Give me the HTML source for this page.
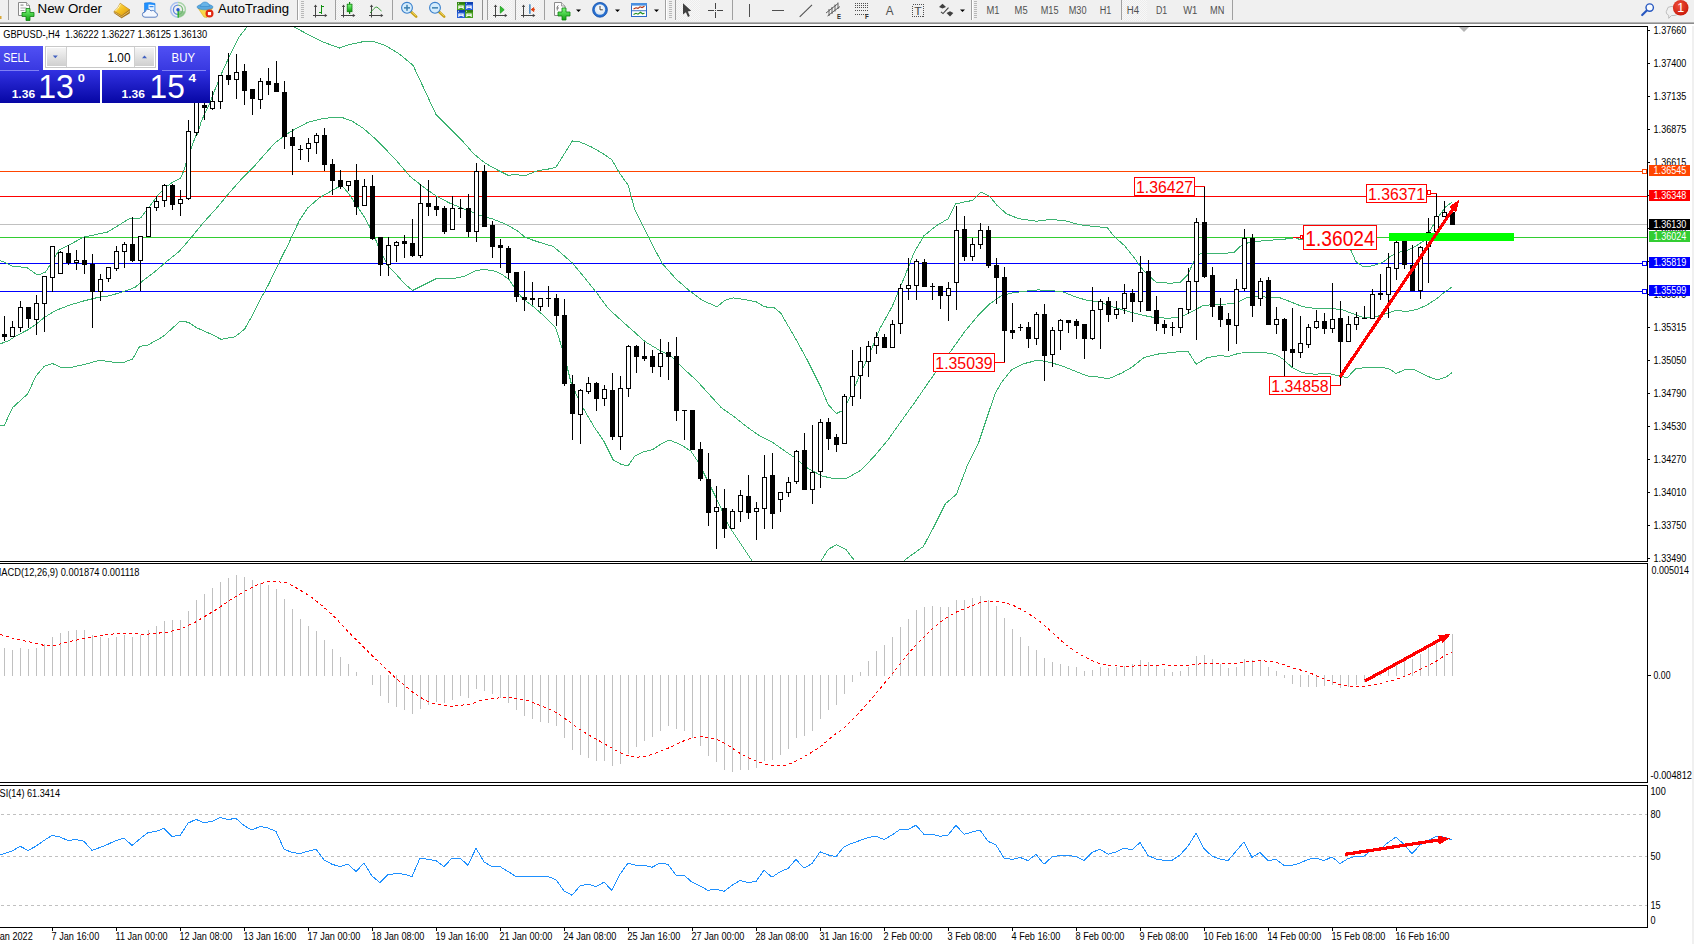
<!DOCTYPE html>
<html><head><meta charset="utf-8"><title>GBPUSD H4</title>
<style>html,body{margin:0;padding:0;background:#fff;overflow:hidden}body{width:1694px;height:944px;font-family:"Liberation Sans",sans-serif}svg text{font-family:"Liberation Sans",sans-serif}</style></head>
<body>
<svg width="1694" height="944" viewBox="0 0 1694 944" style="display:block">
<defs>
<linearGradient id="gblue" x1="0" y1="0" x2="0" y2="1"><stop offset="0" stop-color="#3232e2"/><stop offset="1" stop-color="#0606a4"/></linearGradient>
<linearGradient id="gblue2" x1="0" y1="0" x2="0" y2="1"><stop offset="0" stop-color="#5050f4"/><stop offset="1" stop-color="#3838e0"/></linearGradient>
<clipPath id="cmain"><rect x="0" y="27" width="1647" height="534"/></clipPath>
<clipPath id="cmacd"><rect x="0" y="564" width="1647" height="218"/></clipPath>
<clipPath id="crsi"><rect x="0" y="786" width="1647" height="141"/></clipPath>
</defs>
<rect x="0" y="0" width="1694" height="944" fill="#ffffff"/>
<g clip-path="url(#cmain)" shape-rendering="crispEdges">
<rect x="0" y="171" width="1647" height="1" fill="#ff4500"/>
<rect x="0" y="196" width="1647" height="1" fill="#ff0000"/>
<rect x="0" y="224" width="1647" height="1" fill="#c0c0c0"/>
<rect x="0" y="237" width="1647" height="1" fill="#32cd32"/>
<rect x="0" y="263" width="1647" height="1" fill="#0000ff"/>
<rect x="0" y="291" width="1647" height="1" fill="#0000ff"/>
<polyline points="0.0,260.6 5.5,262.6 12.4,266.4 20.7,267.0 27.6,268.0 35.8,274.0 41.3,274.0 45.5,272.0 52.0,262.0 59.0,250.0 69.0,245.0 84.0,237.0 93.7,235.0 107.5,232.0 118.5,225.4 129.5,218.5 140.5,218.0 148.8,207.5 157.0,196.4 165.0,187.6 172.0,182.7 180.5,178.0 184.6,169.0 186.5,161.0 190.0,152.0 195.6,136.0 197.5,134.8 201.0,122.0 205.8,111.4 209.4,104.0 214.0,92.0 222.4,71.5 230.6,53.6 239.0,37.0 247.0,27.0" fill="none" stroke="#3cb371" stroke-width="1" />
<polyline points="294.0,27.0 307.8,34.3 324.3,42.5 339.5,48.0 349.0,44.7 363.0,41.7 374.0,41.7 385.0,45.3 398.7,53.5 413.1,65.4 424.6,90.0 436.1,114.7 449.3,127.8 462.4,140.9 473.9,154.0 485.4,163.3 498.5,170.5 508.4,175.4 515.0,174.4 524.8,175.8 537.9,170.5 547.8,169.2 556.0,167.2 564.2,154.0 572.4,140.9 579.0,141.6 590.5,146.5 602.0,153.0 611.8,159.7 620.0,173.8 628.2,185.3 634.8,209.9 643.0,226.3 652.9,246.0 662.7,264.0 675.9,278.9 689.0,290.4 702.1,300.2 716.9,306.8 725.1,300.2 733.3,297.9 744.8,299.6 756.3,301.9 764.5,306.8 774.4,307.8 781.0,313.4 787.5,324.8 794.0,335.8 807.6,360.6 821.3,388.2 828.2,404.7 836.5,413.5 843.4,410.2 851.6,393.7 862.7,368.9 873.7,344.0 880.0,328.4 892.2,306.5 904.4,277.2 914.0,252.8 923.9,235.8 936.0,226.0 948.2,218.7 955.5,204.0 965.3,201.7 972.6,200.5 981.0,192.0 989.6,196.3 997.0,205.3 1006.7,213.9 1018.9,218.7 1036.0,221.2 1050.6,219.5 1065.2,220.7 1079.8,224.8 1094.4,226.5 1107.3,227.7 1114.6,237.0 1124.4,245.5 1134.1,257.7 1143.9,271.1 1156.0,282.1 1170.7,283.3 1180.4,282.1 1187.7,274.8 1193.8,261.4 1199.9,254.0 1209.6,253.6 1221.8,253.6 1234.0,252.4 1241.3,245.5 1248.6,242.6 1258.4,241.2 1270.6,240.2 1282.7,239.4 1294.9,237.7 1299.7,239.4 1320.0,241.0 1340.0,243.0 1351.0,250.4 1355.8,261.4 1363.1,266.7 1372.8,265.8 1382.6,262.6 1390.0,256.5 1400.0,252.0 1408.0,250.0 1416.7,245.5 1424.0,240.7 1431.0,229.0 1438.6,216.3 1446.0,206.5 1452.0,202.2" fill="none" stroke="#3cb371" stroke-width="1" />
<polyline points="0.0,343.9 8.3,341.0 16.5,335.6 27.6,330.0 35.8,324.6 44.0,317.7 55.0,310.8 69.0,305.3 82.7,301.2 96.4,297.8 110.2,295.6 124.0,291.5 135.0,287.4 143.3,280.5 154.3,272.2 165.3,262.6 179.0,251.6 190.7,238.2 203.0,223.0 216.8,207.9 230.6,191.3 241.6,179.0 252.7,168.0 263.7,155.5 274.7,143.0 285.7,134.8 296.8,128.0 307.8,122.4 321.5,118.9 335.3,117.0 340.8,117.0 351.9,121.0 362.9,128.0 373.9,137.6 385.0,148.6 396.0,160.0 409.8,176.2 423.6,187.2 437.3,196.8 451.0,203.7 464.9,209.2 478.7,214.8 492.4,218.9 506.2,224.4 517.2,230.7 525.5,237.6 539.3,242.3 553.0,246.4 561.3,253.3 572.4,263.0 586.0,279.5 597.0,293.3 608.2,308.4 620.8,320.0 632.3,330.2 645.0,341.6 657.7,349.2 670.4,355.6 683.1,368.3 695.8,379.7 708.6,393.7 721.3,407.7 734.0,416.6 746.7,426.8 759.4,435.7 772.1,442.0 784.8,451.0 793.8,457.0 807.6,468.0 821.3,475.8 835.1,479.0 846.0,478.6 860.0,470.8 873.7,457.0 887.5,440.5 901.2,421.2 915.0,402.0 928.7,382.0 940.9,365.0 953.1,347.9 965.3,330.8 977.5,316.2 989.6,304.0 1001.8,295.5 1014.0,292.6 1026.2,291.1 1038.4,289.9 1050.6,290.6 1062.7,291.8 1074.9,296.7 1087.1,300.4 1099.3,301.6 1109.7,306.0 1119.5,308.9 1131.7,312.5 1143.9,315.5 1156.0,317.9 1170.7,318.1 1182.8,316.2 1192.6,311.3 1202.3,306.0 1212.1,304.5 1226.7,304.0 1236.5,302.8 1246.2,297.9 1255.9,296.7 1270.6,297.2 1280.3,297.9 1290.0,301.6 1302.2,306.5 1314.4,308.4 1329.0,308.4 1341.2,309.4 1353.4,313.8 1363.1,317.4 1372.8,317.4 1382.6,315.0 1394.8,310.6 1407.0,311.3 1416.7,309.6 1426.5,305.2 1436.2,299.1 1443.5,293.0 1452.0,287.0" fill="none" stroke="#3cb371" stroke-width="1" />
<polyline points="0.0,425.8 4.1,425.8 12.4,407.8 27.6,394.0 36.0,376.0 44.2,366.4 52.5,363.6 60.8,367.2 71.9,367.2 85.7,364.1 99.5,360.3 113.4,362.2 124.4,362.2 132.7,358.9 139.6,346.4 147.9,345.1 163.1,336.5 179.7,321.6 188.0,322.1 196.3,327.6 210.1,333.7 221.2,339.3 235.0,336.8 244.7,329.0 251.6,316.6 259.9,300.0 267.8,286.0 280.2,260.2 288.5,243.7 299.5,220.3 307.8,207.9 318.8,198.2 328.4,192.7 338.0,187.2 342.2,185.8 349.0,194.0 357.4,206.5 365.6,218.9 374.0,235.4 379.4,249.2 387.7,265.7 396.0,274.0 404.3,283.6 412.5,290.5 423.6,285.0 437.3,278.1 451.0,279.0 464.9,276.2 475.9,270.7 484.2,269.3 495.2,271.2 503.5,275.4 509.0,279.5 514.5,287.8 522.8,298.8 533.8,307.0 544.8,316.7 555.8,328.0 563.6,353.0 571.3,383.6 581.4,405.2 594.1,426.8 604.3,442.0 613.2,459.8 622.1,464.9 628.5,465.4 634.8,456.0 642.4,452.2 652.6,449.7 660.2,444.6 669.1,440.0 680.6,444.6 690.8,451.0 698.4,462.4 708.6,482.7 718.7,503.0 728.9,526.0 739.0,541.2 751.8,560.5" fill="none" stroke="#3cb371" stroke-width="1" />
<polyline points="821.3,560.5 828.2,549.4 836.5,544.7 846.0,549.4 854.4,560.5" fill="none" stroke="#3cb371" stroke-width="1" />
<polyline points="904.0,560.5 923.3,546.6 934.3,526.0 945.3,503.9 956.4,494.3 967.4,465.3 978.4,443.3 986.7,418.5 995.0,393.7 1001.8,382.0 1011.6,369.8 1023.8,363.7 1038.4,360.0 1050.6,362.5 1062.7,366.2 1074.9,371.0 1087.1,375.9 1099.3,377.1 1108.5,378.8 1121.9,373.0 1131.7,367.4 1143.9,357.6 1158.5,354.0 1173.1,352.3 1187.7,351.0 1196.2,364.2 1207.2,357.6 1219.4,355.7 1229.1,356.4 1238.9,353.2 1251.1,352.3 1265.7,352.7 1275.4,354.5 1282.7,358.8 1292.5,367.9 1302.2,372.7 1314.4,374.2 1329.0,373.5 1338.7,375.9 1347.3,377.6 1355.8,368.6 1368.0,367.4 1382.6,367.4 1389.9,369.3 1396.0,373.5 1404.5,369.8 1414.3,369.8 1426.5,375.9 1437.4,380.0 1446.0,377.1 1452.0,372.7" fill="none" stroke="#3cb371" stroke-width="1" />
<rect x="4" y="316" width="1" height="25" fill="#000"/>
<rect x="2" y="334" width="5" height="3" fill="#000"/>
<rect x="12" y="321" width="1" height="16" fill="#000"/>
<rect x="10" y="327" width="5" height="10" fill="#000"/>
<rect x="11" y="328" width="3" height="8" fill="#fff"/>
<rect x="20" y="301" width="1" height="31" fill="#000"/>
<rect x="18" y="307" width="5" height="21" fill="#000"/>
<rect x="19" y="308" width="3" height="19" fill="#fff"/>
<rect x="28" y="307" width="1" height="21" fill="#000"/>
<rect x="26" y="307" width="5" height="12" fill="#000"/>
<rect x="36" y="295" width="1" height="40" fill="#000"/>
<rect x="34" y="303" width="5" height="17" fill="#000"/>
<rect x="35" y="304" width="3" height="15" fill="#fff"/>
<rect x="44" y="276" width="1" height="56" fill="#000"/>
<rect x="42" y="276" width="5" height="28" fill="#000"/>
<rect x="43" y="277" width="3" height="26" fill="#fff"/>
<rect x="52" y="246" width="1" height="46" fill="#000"/>
<rect x="50" y="246" width="5" height="32" fill="#000"/>
<rect x="51" y="247" width="3" height="30" fill="#fff"/>
<rect x="60" y="251" width="1" height="23" fill="#000"/>
<rect x="58" y="252" width="5" height="22" fill="#000"/>
<rect x="59" y="253" width="3" height="20" fill="#fff"/>
<rect x="68" y="245" width="1" height="20" fill="#000"/>
<rect x="66" y="253" width="5" height="10" fill="#000"/>
<rect x="76" y="250" width="1" height="20" fill="#000"/>
<rect x="74" y="260" width="5" height="3" fill="#000"/>
<rect x="75" y="261" width="3" height="1" fill="#fff"/>
<rect x="84" y="237" width="1" height="37" fill="#000"/>
<rect x="82" y="260" width="5" height="5" fill="#000"/>
<rect x="92" y="254" width="1" height="74" fill="#000"/>
<rect x="90" y="264" width="5" height="28" fill="#000"/>
<rect x="100" y="274" width="1" height="27" fill="#000"/>
<rect x="98" y="279" width="5" height="13" fill="#000"/>
<rect x="99" y="280" width="3" height="11" fill="#fff"/>
<rect x="108" y="267" width="1" height="15" fill="#000"/>
<rect x="106" y="267" width="5" height="12" fill="#000"/>
<rect x="107" y="268" width="3" height="10" fill="#fff"/>
<rect x="116" y="246" width="1" height="25" fill="#000"/>
<rect x="114" y="251" width="5" height="18" fill="#000"/>
<rect x="115" y="252" width="3" height="16" fill="#fff"/>
<rect x="124" y="242" width="1" height="26" fill="#000"/>
<rect x="122" y="244" width="5" height="8" fill="#000"/>
<rect x="123" y="245" width="3" height="6" fill="#fff"/>
<rect x="132" y="217" width="1" height="45" fill="#000"/>
<rect x="130" y="244" width="5" height="17" fill="#000"/>
<rect x="140" y="236" width="1" height="55" fill="#000"/>
<rect x="138" y="236" width="5" height="25" fill="#000"/>
<rect x="139" y="237" width="3" height="23" fill="#fff"/>
<rect x="148" y="207" width="1" height="30" fill="#000"/>
<rect x="146" y="207" width="5" height="30" fill="#000"/>
<rect x="147" y="208" width="3" height="28" fill="#fff"/>
<rect x="156" y="196" width="1" height="15" fill="#000"/>
<rect x="154" y="201" width="5" height="7" fill="#000"/>
<rect x="155" y="202" width="3" height="5" fill="#fff"/>
<rect x="164" y="184" width="1" height="23" fill="#000"/>
<rect x="162" y="185" width="5" height="16" fill="#000"/>
<rect x="163" y="186" width="3" height="14" fill="#fff"/>
<rect x="172" y="184" width="1" height="26" fill="#000"/>
<rect x="170" y="185" width="5" height="20" fill="#000"/>
<rect x="180" y="190" width="1" height="26" fill="#000"/>
<rect x="178" y="199" width="5" height="5" fill="#000"/>
<rect x="179" y="200" width="3" height="3" fill="#fff"/>
<rect x="188" y="120" width="1" height="80" fill="#000"/>
<rect x="186" y="131" width="5" height="68" fill="#000"/>
<rect x="187" y="132" width="3" height="66" fill="#fff"/>
<rect x="196" y="99" width="1" height="37" fill="#000"/>
<rect x="194" y="99" width="5" height="34" fill="#000"/>
<rect x="195" y="100" width="3" height="32" fill="#fff"/>
<rect x="204" y="103" width="1" height="17" fill="#000"/>
<rect x="202" y="105" width="5" height="3" fill="#000"/>
<rect x="212" y="91" width="1" height="19" fill="#000"/>
<rect x="210" y="101" width="5" height="8" fill="#000"/>
<rect x="211" y="102" width="3" height="6" fill="#fff"/>
<rect x="220" y="75" width="1" height="34" fill="#000"/>
<rect x="218" y="75" width="5" height="27" fill="#000"/>
<rect x="219" y="76" width="3" height="25" fill="#fff"/>
<rect x="228" y="53" width="1" height="32" fill="#000"/>
<rect x="226" y="75" width="5" height="5" fill="#000"/>
<rect x="236" y="54" width="1" height="45" fill="#000"/>
<rect x="234" y="72" width="5" height="8" fill="#000"/>
<rect x="235" y="73" width="3" height="6" fill="#fff"/>
<rect x="244" y="64" width="1" height="41" fill="#000"/>
<rect x="242" y="71" width="5" height="20" fill="#000"/>
<rect x="252" y="89" width="1" height="26" fill="#000"/>
<rect x="250" y="89" width="5" height="10" fill="#000"/>
<rect x="260" y="78" width="1" height="31" fill="#000"/>
<rect x="258" y="81" width="5" height="19" fill="#000"/>
<rect x="259" y="82" width="3" height="17" fill="#fff"/>
<rect x="268" y="68" width="1" height="27" fill="#000"/>
<rect x="266" y="81" width="5" height="4" fill="#000"/>
<rect x="276" y="61" width="1" height="31" fill="#000"/>
<rect x="274" y="83" width="5" height="9" fill="#000"/>
<rect x="284" y="81" width="1" height="68" fill="#000"/>
<rect x="282" y="92" width="5" height="45" fill="#000"/>
<rect x="292" y="129" width="1" height="46" fill="#000"/>
<rect x="290" y="137" width="5" height="9" fill="#000"/>
<rect x="300" y="145" width="1" height="15" fill="#000"/>
<rect x="298" y="149" width="5" height="1" fill="#000"/>
<rect x="308" y="138" width="1" height="24" fill="#000"/>
<rect x="306" y="143" width="5" height="6" fill="#000"/>
<rect x="307" y="144" width="3" height="4" fill="#fff"/>
<rect x="316" y="133" width="1" height="21" fill="#000"/>
<rect x="314" y="135" width="5" height="8" fill="#000"/>
<rect x="315" y="136" width="3" height="6" fill="#fff"/>
<rect x="324" y="128" width="1" height="43" fill="#000"/>
<rect x="322" y="135" width="5" height="30" fill="#000"/>
<rect x="332" y="159" width="1" height="36" fill="#000"/>
<rect x="330" y="164" width="5" height="17" fill="#000"/>
<rect x="340" y="170" width="1" height="19" fill="#000"/>
<rect x="338" y="180" width="5" height="7" fill="#000"/>
<rect x="348" y="181" width="1" height="10" fill="#000"/>
<rect x="346" y="181" width="5" height="5" fill="#000"/>
<rect x="347" y="182" width="3" height="3" fill="#fff"/>
<rect x="356" y="164" width="1" height="51" fill="#000"/>
<rect x="354" y="180" width="5" height="27" fill="#000"/>
<rect x="364" y="179" width="1" height="27" fill="#000"/>
<rect x="362" y="186" width="5" height="20" fill="#000"/>
<rect x="363" y="187" width="3" height="18" fill="#fff"/>
<rect x="372" y="175" width="1" height="65" fill="#000"/>
<rect x="370" y="186" width="5" height="53" fill="#000"/>
<rect x="380" y="237" width="1" height="39" fill="#000"/>
<rect x="378" y="237" width="5" height="28" fill="#000"/>
<rect x="388" y="237" width="1" height="39" fill="#000"/>
<rect x="386" y="245" width="5" height="20" fill="#000"/>
<rect x="387" y="246" width="3" height="18" fill="#fff"/>
<rect x="396" y="241" width="1" height="21" fill="#000"/>
<rect x="394" y="242" width="5" height="4" fill="#000"/>
<rect x="395" y="243" width="3" height="2" fill="#fff"/>
<rect x="404" y="235" width="1" height="23" fill="#000"/>
<rect x="402" y="241" width="5" height="3" fill="#000"/>
<rect x="412" y="219" width="1" height="38" fill="#000"/>
<rect x="410" y="243" width="5" height="13" fill="#000"/>
<rect x="420" y="184" width="1" height="74" fill="#000"/>
<rect x="418" y="203" width="5" height="53" fill="#000"/>
<rect x="419" y="204" width="3" height="51" fill="#fff"/>
<rect x="428" y="180" width="1" height="36" fill="#000"/>
<rect x="426" y="203" width="5" height="4" fill="#000"/>
<rect x="436" y="197" width="1" height="19" fill="#000"/>
<rect x="434" y="206" width="5" height="4" fill="#000"/>
<rect x="444" y="206" width="1" height="28" fill="#000"/>
<rect x="442" y="208" width="5" height="24" fill="#000"/>
<rect x="452" y="196" width="1" height="34" fill="#000"/>
<rect x="450" y="208" width="5" height="22" fill="#000"/>
<rect x="451" y="209" width="3" height="20" fill="#fff"/>
<rect x="460" y="199" width="1" height="19" fill="#000"/>
<rect x="458" y="208" width="5" height="1" fill="#000"/>
<rect x="468" y="194" width="1" height="43" fill="#000"/>
<rect x="466" y="208" width="5" height="24" fill="#000"/>
<rect x="476" y="163" width="1" height="79" fill="#000"/>
<rect x="474" y="171" width="5" height="61" fill="#000"/>
<rect x="475" y="172" width="3" height="59" fill="#fff"/>
<rect x="484" y="165" width="1" height="62" fill="#000"/>
<rect x="482" y="171" width="5" height="56" fill="#000"/>
<rect x="492" y="221" width="1" height="37" fill="#000"/>
<rect x="490" y="225" width="5" height="22" fill="#000"/>
<rect x="500" y="239" width="1" height="29" fill="#000"/>
<rect x="498" y="245" width="5" height="3" fill="#000"/>
<rect x="508" y="246" width="1" height="33" fill="#000"/>
<rect x="506" y="248" width="5" height="25" fill="#000"/>
<rect x="516" y="272" width="1" height="30" fill="#000"/>
<rect x="514" y="272" width="5" height="25" fill="#000"/>
<rect x="524" y="271" width="1" height="40" fill="#000"/>
<rect x="522" y="297" width="5" height="3" fill="#000"/>
<rect x="532" y="282" width="1" height="23" fill="#000"/>
<rect x="530" y="298" width="5" height="2" fill="#000"/>
<rect x="540" y="298" width="1" height="13" fill="#000"/>
<rect x="538" y="298" width="5" height="9" fill="#000"/>
<rect x="539" y="299" width="3" height="7" fill="#fff"/>
<rect x="548" y="286" width="1" height="21" fill="#000"/>
<rect x="546" y="298" width="5" height="1" fill="#000"/>
<rect x="556" y="294" width="1" height="32" fill="#000"/>
<rect x="554" y="298" width="5" height="18" fill="#000"/>
<rect x="564" y="299" width="1" height="87" fill="#000"/>
<rect x="562" y="315" width="5" height="69" fill="#000"/>
<rect x="572" y="375" width="1" height="65" fill="#000"/>
<rect x="570" y="384" width="5" height="30" fill="#000"/>
<rect x="580" y="389" width="1" height="55" fill="#000"/>
<rect x="578" y="390" width="5" height="25" fill="#000"/>
<rect x="579" y="391" width="3" height="23" fill="#fff"/>
<rect x="588" y="377" width="1" height="17" fill="#000"/>
<rect x="586" y="383" width="5" height="9" fill="#000"/>
<rect x="587" y="384" width="3" height="7" fill="#fff"/>
<rect x="596" y="382" width="1" height="29" fill="#000"/>
<rect x="594" y="383" width="5" height="16" fill="#000"/>
<rect x="604" y="385" width="1" height="21" fill="#000"/>
<rect x="602" y="389" width="5" height="10" fill="#000"/>
<rect x="603" y="390" width="3" height="8" fill="#fff"/>
<rect x="612" y="373" width="1" height="67" fill="#000"/>
<rect x="610" y="390" width="5" height="47" fill="#000"/>
<rect x="620" y="376" width="1" height="74" fill="#000"/>
<rect x="618" y="388" width="5" height="49" fill="#000"/>
<rect x="619" y="389" width="3" height="47" fill="#fff"/>
<rect x="628" y="345" width="1" height="52" fill="#000"/>
<rect x="626" y="346" width="5" height="43" fill="#000"/>
<rect x="627" y="347" width="3" height="41" fill="#fff"/>
<rect x="636" y="345" width="1" height="28" fill="#000"/>
<rect x="634" y="346" width="5" height="11" fill="#000"/>
<rect x="644" y="342" width="1" height="19" fill="#000"/>
<rect x="642" y="356" width="5" height="3" fill="#000"/>
<rect x="652" y="350" width="1" height="23" fill="#000"/>
<rect x="650" y="356" width="5" height="11" fill="#000"/>
<rect x="660" y="339" width="1" height="38" fill="#000"/>
<rect x="658" y="353" width="5" height="14" fill="#000"/>
<rect x="659" y="354" width="3" height="12" fill="#fff"/>
<rect x="668" y="342" width="1" height="38" fill="#000"/>
<rect x="666" y="352" width="5" height="5" fill="#000"/>
<rect x="676" y="337" width="1" height="84" fill="#000"/>
<rect x="674" y="356" width="5" height="55" fill="#000"/>
<rect x="684" y="410" width="1" height="30" fill="#000"/>
<rect x="682" y="410" width="5" height="1" fill="#000"/>
<rect x="692" y="410" width="1" height="40" fill="#000"/>
<rect x="690" y="410" width="5" height="40" fill="#000"/>
<rect x="700" y="442" width="1" height="39" fill="#000"/>
<rect x="698" y="449" width="5" height="30" fill="#000"/>
<rect x="708" y="453" width="1" height="73" fill="#000"/>
<rect x="706" y="479" width="5" height="34" fill="#000"/>
<rect x="716" y="486" width="1" height="63" fill="#000"/>
<rect x="714" y="507" width="5" height="5" fill="#000"/>
<rect x="715" y="508" width="3" height="3" fill="#fff"/>
<rect x="724" y="489" width="1" height="49" fill="#000"/>
<rect x="722" y="508" width="5" height="21" fill="#000"/>
<rect x="732" y="509" width="1" height="20" fill="#000"/>
<rect x="730" y="511" width="5" height="18" fill="#000"/>
<rect x="731" y="512" width="3" height="16" fill="#fff"/>
<rect x="740" y="490" width="1" height="32" fill="#000"/>
<rect x="738" y="495" width="5" height="17" fill="#000"/>
<rect x="739" y="496" width="3" height="15" fill="#fff"/>
<rect x="748" y="475" width="1" height="44" fill="#000"/>
<rect x="746" y="496" width="5" height="17" fill="#000"/>
<rect x="756" y="502" width="1" height="38" fill="#000"/>
<rect x="754" y="508" width="5" height="4" fill="#000"/>
<rect x="755" y="509" width="3" height="2" fill="#fff"/>
<rect x="764" y="455" width="1" height="74" fill="#000"/>
<rect x="762" y="477" width="5" height="32" fill="#000"/>
<rect x="763" y="478" width="3" height="30" fill="#fff"/>
<rect x="772" y="453" width="1" height="76" fill="#000"/>
<rect x="770" y="475" width="5" height="39" fill="#000"/>
<rect x="780" y="492" width="1" height="20" fill="#000"/>
<rect x="778" y="492" width="5" height="8" fill="#000"/>
<rect x="779" y="493" width="3" height="6" fill="#fff"/>
<rect x="788" y="477" width="1" height="20" fill="#000"/>
<rect x="786" y="482" width="5" height="11" fill="#000"/>
<rect x="787" y="483" width="3" height="9" fill="#fff"/>
<rect x="796" y="450" width="1" height="34" fill="#000"/>
<rect x="794" y="451" width="5" height="31" fill="#000"/>
<rect x="795" y="452" width="3" height="29" fill="#fff"/>
<rect x="804" y="433" width="1" height="57" fill="#000"/>
<rect x="802" y="450" width="5" height="40" fill="#000"/>
<rect x="812" y="425" width="1" height="79" fill="#000"/>
<rect x="810" y="472" width="5" height="18" fill="#000"/>
<rect x="811" y="473" width="3" height="16" fill="#fff"/>
<rect x="820" y="419" width="1" height="69" fill="#000"/>
<rect x="818" y="422" width="5" height="50" fill="#000"/>
<rect x="819" y="423" width="3" height="48" fill="#fff"/>
<rect x="828" y="418" width="1" height="32" fill="#000"/>
<rect x="826" y="422" width="5" height="17" fill="#000"/>
<rect x="836" y="434" width="1" height="18" fill="#000"/>
<rect x="834" y="437" width="5" height="8" fill="#000"/>
<rect x="844" y="394" width="1" height="50" fill="#000"/>
<rect x="842" y="396" width="5" height="48" fill="#000"/>
<rect x="843" y="397" width="3" height="46" fill="#fff"/>
<rect x="852" y="350" width="1" height="56" fill="#000"/>
<rect x="850" y="376" width="5" height="21" fill="#000"/>
<rect x="851" y="377" width="3" height="19" fill="#fff"/>
<rect x="860" y="347" width="1" height="52" fill="#000"/>
<rect x="858" y="361" width="5" height="15" fill="#000"/>
<rect x="859" y="362" width="3" height="13" fill="#fff"/>
<rect x="868" y="341" width="1" height="36" fill="#000"/>
<rect x="866" y="346" width="5" height="16" fill="#000"/>
<rect x="867" y="347" width="3" height="14" fill="#fff"/>
<rect x="876" y="332" width="1" height="22" fill="#000"/>
<rect x="874" y="337" width="5" height="9" fill="#000"/>
<rect x="875" y="338" width="3" height="7" fill="#fff"/>
<rect x="884" y="334" width="1" height="14" fill="#000"/>
<rect x="882" y="337" width="5" height="11" fill="#000"/>
<rect x="892" y="320" width="1" height="28" fill="#000"/>
<rect x="890" y="324" width="5" height="24" fill="#000"/>
<rect x="891" y="325" width="3" height="22" fill="#fff"/>
<rect x="900" y="284" width="1" height="50" fill="#000"/>
<rect x="898" y="288" width="5" height="36" fill="#000"/>
<rect x="899" y="289" width="3" height="34" fill="#fff"/>
<rect x="908" y="258" width="1" height="42" fill="#000"/>
<rect x="906" y="285" width="5" height="4" fill="#000"/>
<rect x="907" y="286" width="3" height="2" fill="#fff"/>
<rect x="916" y="259" width="1" height="41" fill="#000"/>
<rect x="914" y="261" width="5" height="25" fill="#000"/>
<rect x="915" y="262" width="3" height="23" fill="#fff"/>
<rect x="924" y="259" width="1" height="28" fill="#000"/>
<rect x="922" y="262" width="5" height="25" fill="#000"/>
<rect x="932" y="283" width="1" height="17" fill="#000"/>
<rect x="930" y="286" width="5" height="1" fill="#000"/>
<rect x="940" y="286" width="1" height="23" fill="#000"/>
<rect x="938" y="286" width="5" height="10" fill="#000"/>
<rect x="948" y="282" width="1" height="39" fill="#000"/>
<rect x="946" y="288" width="5" height="8" fill="#000"/>
<rect x="947" y="289" width="3" height="6" fill="#fff"/>
<rect x="956" y="206" width="1" height="104" fill="#000"/>
<rect x="954" y="230" width="5" height="53" fill="#000"/>
<rect x="955" y="231" width="3" height="51" fill="#fff"/>
<rect x="964" y="216" width="1" height="45" fill="#000"/>
<rect x="962" y="229" width="5" height="28" fill="#000"/>
<rect x="972" y="238" width="1" height="23" fill="#000"/>
<rect x="970" y="244" width="5" height="13" fill="#000"/>
<rect x="971" y="245" width="3" height="11" fill="#fff"/>
<rect x="980" y="223" width="1" height="26" fill="#000"/>
<rect x="978" y="230" width="5" height="15" fill="#000"/>
<rect x="979" y="231" width="3" height="13" fill="#fff"/>
<rect x="988" y="226" width="1" height="42" fill="#000"/>
<rect x="986" y="230" width="5" height="36" fill="#000"/>
<rect x="996" y="258" width="1" height="46" fill="#000"/>
<rect x="994" y="265" width="5" height="13" fill="#000"/>
<rect x="1004" y="267" width="1" height="95" fill="#000"/>
<rect x="1002" y="277" width="5" height="54" fill="#000"/>
<rect x="1012" y="303" width="1" height="36" fill="#000"/>
<rect x="1010" y="330" width="5" height="3" fill="#000"/>
<rect x="1020" y="324" width="1" height="7" fill="#000"/>
<rect x="1018" y="327" width="5" height="1" fill="#000"/>
<rect x="1028" y="322" width="1" height="26" fill="#000"/>
<rect x="1026" y="327" width="5" height="12" fill="#000"/>
<rect x="1036" y="312" width="1" height="33" fill="#000"/>
<rect x="1034" y="314" width="5" height="25" fill="#000"/>
<rect x="1035" y="315" width="3" height="23" fill="#fff"/>
<rect x="1044" y="304" width="1" height="77" fill="#000"/>
<rect x="1042" y="314" width="5" height="42" fill="#000"/>
<rect x="1052" y="327" width="1" height="40" fill="#000"/>
<rect x="1050" y="330" width="5" height="25" fill="#000"/>
<rect x="1051" y="331" width="3" height="23" fill="#fff"/>
<rect x="1060" y="319" width="1" height="31" fill="#000"/>
<rect x="1058" y="320" width="5" height="11" fill="#000"/>
<rect x="1059" y="321" width="3" height="9" fill="#fff"/>
<rect x="1068" y="320" width="1" height="13" fill="#000"/>
<rect x="1066" y="320" width="5" height="3" fill="#000"/>
<rect x="1076" y="319" width="1" height="20" fill="#000"/>
<rect x="1074" y="321" width="5" height="5" fill="#000"/>
<rect x="1084" y="324" width="1" height="35" fill="#000"/>
<rect x="1082" y="324" width="5" height="15" fill="#000"/>
<rect x="1092" y="287" width="1" height="53" fill="#000"/>
<rect x="1090" y="310" width="5" height="29" fill="#000"/>
<rect x="1091" y="311" width="3" height="27" fill="#fff"/>
<rect x="1100" y="299" width="1" height="50" fill="#000"/>
<rect x="1098" y="301" width="5" height="9" fill="#000"/>
<rect x="1099" y="302" width="3" height="7" fill="#fff"/>
<rect x="1108" y="297" width="1" height="25" fill="#000"/>
<rect x="1106" y="301" width="5" height="14" fill="#000"/>
<rect x="1116" y="301" width="1" height="18" fill="#000"/>
<rect x="1114" y="309" width="5" height="6" fill="#000"/>
<rect x="1115" y="310" width="3" height="4" fill="#fff"/>
<rect x="1124" y="284" width="1" height="30" fill="#000"/>
<rect x="1122" y="293" width="5" height="16" fill="#000"/>
<rect x="1123" y="294" width="3" height="14" fill="#fff"/>
<rect x="1132" y="289" width="1" height="33" fill="#000"/>
<rect x="1130" y="293" width="5" height="9" fill="#000"/>
<rect x="1140" y="256" width="1" height="56" fill="#000"/>
<rect x="1138" y="272" width="5" height="30" fill="#000"/>
<rect x="1139" y="273" width="3" height="28" fill="#fff"/>
<rect x="1148" y="260" width="1" height="51" fill="#000"/>
<rect x="1146" y="271" width="5" height="40" fill="#000"/>
<rect x="1156" y="296" width="1" height="35" fill="#000"/>
<rect x="1154" y="310" width="5" height="14" fill="#000"/>
<rect x="1164" y="320" width="1" height="14" fill="#000"/>
<rect x="1162" y="324" width="5" height="4" fill="#000"/>
<rect x="1172" y="322" width="1" height="14" fill="#000"/>
<rect x="1170" y="327" width="5" height="1" fill="#000"/>
<rect x="1180" y="308" width="1" height="25" fill="#000"/>
<rect x="1178" y="308" width="5" height="20" fill="#000"/>
<rect x="1179" y="309" width="3" height="18" fill="#fff"/>
<rect x="1188" y="268" width="1" height="46" fill="#000"/>
<rect x="1186" y="281" width="5" height="29" fill="#000"/>
<rect x="1187" y="282" width="3" height="27" fill="#fff"/>
<rect x="1196" y="218" width="1" height="122" fill="#000"/>
<rect x="1194" y="222" width="5" height="60" fill="#000"/>
<rect x="1195" y="223" width="3" height="58" fill="#fff"/>
<rect x="1204" y="186" width="1" height="92" fill="#000"/>
<rect x="1202" y="222" width="5" height="55" fill="#000"/>
<rect x="1212" y="267" width="1" height="50" fill="#000"/>
<rect x="1210" y="275" width="5" height="32" fill="#000"/>
<rect x="1220" y="298" width="1" height="29" fill="#000"/>
<rect x="1218" y="306" width="5" height="14" fill="#000"/>
<rect x="1228" y="313" width="1" height="38" fill="#000"/>
<rect x="1226" y="319" width="5" height="6" fill="#000"/>
<rect x="1236" y="279" width="1" height="65" fill="#000"/>
<rect x="1234" y="289" width="5" height="37" fill="#000"/>
<rect x="1235" y="290" width="3" height="35" fill="#fff"/>
<rect x="1244" y="229" width="1" height="62" fill="#000"/>
<rect x="1242" y="238" width="5" height="51" fill="#000"/>
<rect x="1243" y="239" width="3" height="49" fill="#fff"/>
<rect x="1252" y="234" width="1" height="83" fill="#000"/>
<rect x="1250" y="238" width="5" height="68" fill="#000"/>
<rect x="1260" y="278" width="1" height="28" fill="#000"/>
<rect x="1258" y="281" width="5" height="18" fill="#000"/>
<rect x="1259" y="282" width="3" height="16" fill="#fff"/>
<rect x="1268" y="277" width="1" height="48" fill="#000"/>
<rect x="1266" y="280" width="5" height="45" fill="#000"/>
<rect x="1276" y="307" width="1" height="27" fill="#000"/>
<rect x="1274" y="319" width="5" height="6" fill="#000"/>
<rect x="1275" y="320" width="3" height="4" fill="#fff"/>
<rect x="1284" y="318" width="1" height="58" fill="#000"/>
<rect x="1282" y="319" width="5" height="32" fill="#000"/>
<rect x="1292" y="308" width="1" height="59" fill="#000"/>
<rect x="1290" y="349" width="5" height="4" fill="#000"/>
<rect x="1300" y="316" width="1" height="42" fill="#000"/>
<rect x="1298" y="343" width="5" height="10" fill="#000"/>
<rect x="1299" y="344" width="3" height="8" fill="#fff"/>
<rect x="1308" y="324" width="1" height="24" fill="#000"/>
<rect x="1306" y="327" width="5" height="18" fill="#000"/>
<rect x="1307" y="328" width="3" height="16" fill="#fff"/>
<rect x="1316" y="310" width="1" height="19" fill="#000"/>
<rect x="1314" y="321" width="5" height="7" fill="#000"/>
<rect x="1315" y="322" width="3" height="5" fill="#fff"/>
<rect x="1324" y="313" width="1" height="21" fill="#000"/>
<rect x="1322" y="321" width="5" height="8" fill="#000"/>
<rect x="1332" y="283" width="1" height="50" fill="#000"/>
<rect x="1330" y="319" width="5" height="10" fill="#000"/>
<rect x="1331" y="320" width="3" height="8" fill="#fff"/>
<rect x="1340" y="301" width="1" height="85" fill="#000"/>
<rect x="1338" y="318" width="5" height="24" fill="#000"/>
<rect x="1348" y="316" width="1" height="26" fill="#000"/>
<rect x="1346" y="324" width="5" height="18" fill="#000"/>
<rect x="1347" y="325" width="3" height="16" fill="#fff"/>
<rect x="1356" y="312" width="1" height="18" fill="#000"/>
<rect x="1354" y="317" width="5" height="8" fill="#000"/>
<rect x="1355" y="318" width="3" height="6" fill="#fff"/>
<rect x="1364" y="306" width="1" height="13" fill="#000"/>
<rect x="1362" y="318" width="5" height="1" fill="#000"/>
<rect x="1372" y="289" width="1" height="30" fill="#000"/>
<rect x="1370" y="294" width="5" height="25" fill="#000"/>
<rect x="1371" y="295" width="3" height="23" fill="#fff"/>
<rect x="1380" y="274" width="1" height="26" fill="#000"/>
<rect x="1378" y="293" width="5" height="2" fill="#000"/>
<rect x="1388" y="253" width="1" height="65" fill="#000"/>
<rect x="1386" y="267" width="5" height="28" fill="#000"/>
<rect x="1387" y="268" width="3" height="26" fill="#fff"/>
<rect x="1396" y="241" width="1" height="39" fill="#000"/>
<rect x="1394" y="242" width="5" height="27" fill="#000"/>
<rect x="1395" y="243" width="3" height="25" fill="#fff"/>
<rect x="1404" y="241" width="1" height="28" fill="#000"/>
<rect x="1402" y="241" width="5" height="24" fill="#000"/>
<rect x="1412" y="245" width="1" height="46" fill="#000"/>
<rect x="1410" y="265" width="5" height="26" fill="#000"/>
<rect x="1420" y="246" width="1" height="53" fill="#000"/>
<rect x="1418" y="247" width="5" height="44" fill="#000"/>
<rect x="1419" y="248" width="3" height="42" fill="#fff"/>
<rect x="1428" y="218" width="1" height="65" fill="#000"/>
<rect x="1426" y="232" width="5" height="15" fill="#000"/>
<rect x="1427" y="233" width="3" height="13" fill="#fff"/>
<rect x="1436" y="194" width="1" height="38" fill="#000"/>
<rect x="1434" y="216" width="5" height="16" fill="#000"/>
<rect x="1435" y="217" width="3" height="14" fill="#fff"/>
<rect x="1444" y="201" width="1" height="16" fill="#000"/>
<rect x="1442" y="212" width="5" height="5" fill="#000"/>
<rect x="1443" y="213" width="3" height="3" fill="#fff"/>
<rect x="1452" y="212" width="1" height="13" fill="#000"/>
<rect x="1450" y="212" width="5" height="13" fill="#000"/>
</g>
<rect x="1389" y="233" width="125" height="8" fill="#00ff00" shape-rendering="crispEdges"/>
<g shape-rendering="crispEdges">
<rect x="994" y="362" width="11" height="1" fill="#ff0000"/>
<rect x="1194" y="186" width="11" height="1" fill="#ff0000"/>
<rect x="1330" y="385" width="11" height="1" fill="#ff0000"/>
<rect x="1427.5" y="190.5" width="3" height="4" fill="#fff" stroke="#ff0000" stroke-width="1"/>
<rect x="1430" y="193" width="7" height="1" fill="#ff0000"/>
<rect x="1293" y="237" width="8" height="1" fill="#ff0000"/>
<rect x="1300.5" y="235.5" width="2" height="3" fill="#fff" stroke="#ff0000" stroke-width="1"/>
</g>
<rect x="933.5" y="353.5" width="61" height="18" fill="#fff" stroke="#ff0000" stroke-width="1" shape-rendering="crispEdges"/>
<text x="964.0" y="368.548" font-family="Liberation Sans, sans-serif" font-size="16.8" fill="#ff0000" text-anchor="middle" textLength="57.4" lengthAdjust="spacingAndGlyphs">1.35039</text>
<rect x="1134.5" y="177.5" width="60" height="18" fill="#fff" stroke="#ff0000" stroke-width="1" shape-rendering="crispEdges"/>
<text x="1164.5" y="192.548" font-family="Liberation Sans, sans-serif" font-size="16.8" fill="#ff0000" text-anchor="middle" textLength="57" lengthAdjust="spacingAndGlyphs">1.36427</text>
<rect x="1269.5" y="376.5" width="61" height="18" fill="#fff" stroke="#ff0000" stroke-width="1" shape-rendering="crispEdges"/>
<text x="1300.0" y="391.548" font-family="Liberation Sans, sans-serif" font-size="16.8" fill="#ff0000" text-anchor="middle" textLength="57.4" lengthAdjust="spacingAndGlyphs">1.34858</text>
<rect x="1366.5" y="184.5" width="60" height="18" fill="#fff" stroke="#ff0000" stroke-width="1" shape-rendering="crispEdges"/>
<text x="1396.5" y="199.548" font-family="Liberation Sans, sans-serif" font-size="16.8" fill="#ff0000" text-anchor="middle" textLength="57" lengthAdjust="spacingAndGlyphs">1.36371</text>
<rect x="1303.5" y="225.5" width="73" height="24" fill="#fff" stroke="#ff0000" stroke-width="1" shape-rendering="crispEdges"/>
<text x="1340.0" y="245.564" font-family="Liberation Sans, sans-serif" font-size="22.4" fill="#ff0000" text-anchor="middle" textLength="69.4" lengthAdjust="spacingAndGlyphs">1.36024</text>
<g shape-rendering="crispEdges"><line x1="1340" y1="377" x2="1453.7" y2="207.9" stroke="#ff0000" stroke-width="3.2"/>
<polygon points="1459.3,199.6 1456.3,212.1 1448.9,207.0" fill="#ff0000"/></g>
<g clip-path="url(#cmacd)" shape-rendering="crispEdges">
<rect x="4" y="648" width="1" height="28" fill="#c0c0c0"/>
<rect x="12" y="650" width="1" height="26" fill="#c0c0c0"/>
<rect x="20" y="648" width="1" height="28" fill="#c0c0c0"/>
<rect x="28" y="649" width="1" height="27" fill="#c0c0c0"/>
<rect x="36" y="648" width="1" height="28" fill="#c0c0c0"/>
<rect x="44" y="644" width="1" height="32" fill="#c0c0c0"/>
<rect x="52" y="637" width="1" height="39" fill="#c0c0c0"/>
<rect x="60" y="633" width="1" height="43" fill="#c0c0c0"/>
<rect x="68" y="631" width="1" height="45" fill="#c0c0c0"/>
<rect x="76" y="630" width="1" height="46" fill="#c0c0c0"/>
<rect x="84" y="630" width="1" height="46" fill="#c0c0c0"/>
<rect x="92" y="635" width="1" height="41" fill="#c0c0c0"/>
<rect x="100" y="637" width="1" height="39" fill="#c0c0c0"/>
<rect x="108" y="638" width="1" height="38" fill="#c0c0c0"/>
<rect x="116" y="637" width="1" height="39" fill="#c0c0c0"/>
<rect x="124" y="635" width="1" height="41" fill="#c0c0c0"/>
<rect x="132" y="637" width="1" height="39" fill="#c0c0c0"/>
<rect x="140" y="635" width="1" height="41" fill="#c0c0c0"/>
<rect x="148" y="630" width="1" height="46" fill="#c0c0c0"/>
<rect x="156" y="626" width="1" height="50" fill="#c0c0c0"/>
<rect x="164" y="621" width="1" height="55" fill="#c0c0c0"/>
<rect x="172" y="620" width="1" height="56" fill="#c0c0c0"/>
<rect x="180" y="620" width="1" height="56" fill="#c0c0c0"/>
<rect x="188" y="611" width="1" height="65" fill="#c0c0c0"/>
<rect x="196" y="600" width="1" height="76" fill="#c0c0c0"/>
<rect x="204" y="594" width="1" height="82" fill="#c0c0c0"/>
<rect x="212" y="588" width="1" height="88" fill="#c0c0c0"/>
<rect x="220" y="582" width="1" height="94" fill="#c0c0c0"/>
<rect x="228" y="578" width="1" height="98" fill="#c0c0c0"/>
<rect x="236" y="575" width="1" height="101" fill="#c0c0c0"/>
<rect x="244" y="577" width="1" height="99" fill="#c0c0c0"/>
<rect x="252" y="580" width="1" height="96" fill="#c0c0c0"/>
<rect x="260" y="583" width="1" height="93" fill="#c0c0c0"/>
<rect x="268" y="585" width="1" height="91" fill="#c0c0c0"/>
<rect x="276" y="589" width="1" height="87" fill="#c0c0c0"/>
<rect x="284" y="599" width="1" height="77" fill="#c0c0c0"/>
<rect x="292" y="609" width="1" height="67" fill="#c0c0c0"/>
<rect x="300" y="619" width="1" height="57" fill="#c0c0c0"/>
<rect x="308" y="626" width="1" height="50" fill="#c0c0c0"/>
<rect x="316" y="631" width="1" height="45" fill="#c0c0c0"/>
<rect x="324" y="640" width="1" height="36" fill="#c0c0c0"/>
<rect x="332" y="649" width="1" height="27" fill="#c0c0c0"/>
<rect x="340" y="657" width="1" height="19" fill="#c0c0c0"/>
<rect x="348" y="664" width="1" height="12" fill="#c0c0c0"/>
<rect x="356" y="672" width="1" height="4" fill="#c0c0c0"/>
<rect x="372" y="675" width="1" height="10" fill="#c0c0c0"/>
<rect x="380" y="675" width="1" height="21" fill="#c0c0c0"/>
<rect x="388" y="675" width="1" height="28" fill="#c0c0c0"/>
<rect x="396" y="675" width="1" height="32" fill="#c0c0c0"/>
<rect x="404" y="675" width="1" height="35" fill="#c0c0c0"/>
<rect x="412" y="675" width="1" height="39" fill="#c0c0c0"/>
<rect x="420" y="675" width="1" height="34" fill="#c0c0c0"/>
<rect x="428" y="675" width="1" height="30" fill="#c0c0c0"/>
<rect x="436" y="675" width="1" height="27" fill="#c0c0c0"/>
<rect x="444" y="675" width="1" height="28" fill="#c0c0c0"/>
<rect x="452" y="675" width="1" height="25" fill="#c0c0c0"/>
<rect x="460" y="675" width="1" height="21" fill="#c0c0c0"/>
<rect x="468" y="675" width="1" height="23" fill="#c0c0c0"/>
<rect x="476" y="675" width="1" height="14" fill="#c0c0c0"/>
<rect x="484" y="675" width="1" height="16" fill="#c0c0c0"/>
<rect x="492" y="675" width="1" height="19" fill="#c0c0c0"/>
<rect x="500" y="675" width="1" height="23" fill="#c0c0c0"/>
<rect x="508" y="675" width="1" height="28" fill="#c0c0c0"/>
<rect x="516" y="675" width="1" height="35" fill="#c0c0c0"/>
<rect x="524" y="675" width="1" height="41" fill="#c0c0c0"/>
<rect x="532" y="675" width="1" height="44" fill="#c0c0c0"/>
<rect x="540" y="675" width="1" height="47" fill="#c0c0c0"/>
<rect x="548" y="675" width="1" height="48" fill="#c0c0c0"/>
<rect x="556" y="675" width="1" height="51" fill="#c0c0c0"/>
<rect x="564" y="675" width="1" height="63" fill="#c0c0c0"/>
<rect x="572" y="675" width="1" height="75" fill="#c0c0c0"/>
<rect x="580" y="675" width="1" height="80" fill="#c0c0c0"/>
<rect x="588" y="675" width="1" height="83" fill="#c0c0c0"/>
<rect x="596" y="675" width="1" height="86" fill="#c0c0c0"/>
<rect x="604" y="675" width="1" height="86" fill="#c0c0c0"/>
<rect x="612" y="675" width="1" height="91" fill="#c0c0c0"/>
<rect x="620" y="675" width="1" height="89" fill="#c0c0c0"/>
<rect x="628" y="675" width="1" height="79" fill="#c0c0c0"/>
<rect x="636" y="675" width="1" height="72" fill="#c0c0c0"/>
<rect x="644" y="675" width="1" height="66" fill="#c0c0c0"/>
<rect x="652" y="675" width="1" height="62" fill="#c0c0c0"/>
<rect x="660" y="675" width="1" height="56" fill="#c0c0c0"/>
<rect x="668" y="675" width="1" height="51" fill="#c0c0c0"/>
<rect x="676" y="675" width="1" height="54" fill="#c0c0c0"/>
<rect x="684" y="675" width="1" height="56" fill="#c0c0c0"/>
<rect x="692" y="675" width="1" height="63" fill="#c0c0c0"/>
<rect x="700" y="675" width="1" height="71" fill="#c0c0c0"/>
<rect x="708" y="675" width="1" height="81" fill="#c0c0c0"/>
<rect x="716" y="675" width="1" height="87" fill="#c0c0c0"/>
<rect x="724" y="675" width="1" height="95" fill="#c0c0c0"/>
<rect x="732" y="675" width="1" height="97" fill="#c0c0c0"/>
<rect x="740" y="675" width="1" height="95" fill="#c0c0c0"/>
<rect x="748" y="675" width="1" height="95" fill="#c0c0c0"/>
<rect x="756" y="675" width="1" height="93" fill="#c0c0c0"/>
<rect x="764" y="675" width="1" height="86" fill="#c0c0c0"/>
<rect x="772" y="675" width="1" height="85" fill="#c0c0c0"/>
<rect x="780" y="675" width="1" height="80" fill="#c0c0c0"/>
<rect x="788" y="675" width="1" height="74" fill="#c0c0c0"/>
<rect x="796" y="675" width="1" height="63" fill="#c0c0c0"/>
<rect x="804" y="675" width="1" height="61" fill="#c0c0c0"/>
<rect x="812" y="675" width="1" height="56" fill="#c0c0c0"/>
<rect x="820" y="675" width="1" height="44" fill="#c0c0c0"/>
<rect x="828" y="675" width="1" height="35" fill="#c0c0c0"/>
<rect x="836" y="675" width="1" height="30" fill="#c0c0c0"/>
<rect x="844" y="675" width="1" height="19" fill="#c0c0c0"/>
<rect x="852" y="675" width="1" height="7" fill="#c0c0c0"/>
<rect x="860" y="672" width="1" height="4" fill="#c0c0c0"/>
<rect x="868" y="661" width="1" height="15" fill="#c0c0c0"/>
<rect x="876" y="651" width="1" height="25" fill="#c0c0c0"/>
<rect x="884" y="645" width="1" height="31" fill="#c0c0c0"/>
<rect x="892" y="637" width="1" height="39" fill="#c0c0c0"/>
<rect x="900" y="627" width="1" height="49" fill="#c0c0c0"/>
<rect x="908" y="619" width="1" height="57" fill="#c0c0c0"/>
<rect x="916" y="610" width="1" height="66" fill="#c0c0c0"/>
<rect x="924" y="607" width="1" height="69" fill="#c0c0c0"/>
<rect x="932" y="606" width="1" height="70" fill="#c0c0c0"/>
<rect x="940" y="607" width="1" height="69" fill="#c0c0c0"/>
<rect x="948" y="607" width="1" height="69" fill="#c0c0c0"/>
<rect x="956" y="600" width="1" height="76" fill="#c0c0c0"/>
<rect x="964" y="600" width="1" height="76" fill="#c0c0c0"/>
<rect x="972" y="598" width="1" height="78" fill="#c0c0c0"/>
<rect x="980" y="596" width="1" height="80" fill="#c0c0c0"/>
<rect x="988" y="600" width="1" height="76" fill="#c0c0c0"/>
<rect x="996" y="606" width="1" height="70" fill="#c0c0c0"/>
<rect x="1004" y="618" width="1" height="58" fill="#c0c0c0"/>
<rect x="1012" y="629" width="1" height="47" fill="#c0c0c0"/>
<rect x="1020" y="637" width="1" height="39" fill="#c0c0c0"/>
<rect x="1028" y="646" width="1" height="30" fill="#c0c0c0"/>
<rect x="1036" y="650" width="1" height="26" fill="#c0c0c0"/>
<rect x="1044" y="658" width="1" height="18" fill="#c0c0c0"/>
<rect x="1052" y="662" width="1" height="14" fill="#c0c0c0"/>
<rect x="1060" y="664" width="1" height="12" fill="#c0c0c0"/>
<rect x="1068" y="666" width="1" height="10" fill="#c0c0c0"/>
<rect x="1076" y="667" width="1" height="9" fill="#c0c0c0"/>
<rect x="1084" y="671" width="1" height="5" fill="#c0c0c0"/>
<rect x="1092" y="670" width="1" height="6" fill="#c0c0c0"/>
<rect x="1100" y="667" width="1" height="9" fill="#c0c0c0"/>
<rect x="1108" y="668" width="1" height="8" fill="#c0c0c0"/>
<rect x="1116" y="667" width="1" height="9" fill="#c0c0c0"/>
<rect x="1124" y="666" width="1" height="10" fill="#c0c0c0"/>
<rect x="1132" y="664" width="1" height="12" fill="#c0c0c0"/>
<rect x="1140" y="660" width="1" height="16" fill="#c0c0c0"/>
<rect x="1148" y="662" width="1" height="14" fill="#c0c0c0"/>
<rect x="1156" y="665" width="1" height="11" fill="#c0c0c0"/>
<rect x="1164" y="669" width="1" height="7" fill="#c0c0c0"/>
<rect x="1172" y="672" width="1" height="4" fill="#c0c0c0"/>
<rect x="1180" y="671" width="1" height="5" fill="#c0c0c0"/>
<rect x="1188" y="667" width="1" height="9" fill="#c0c0c0"/>
<rect x="1196" y="656" width="1" height="20" fill="#c0c0c0"/>
<rect x="1204" y="655" width="1" height="21" fill="#c0c0c0"/>
<rect x="1212" y="659" width="1" height="17" fill="#c0c0c0"/>
<rect x="1220" y="664" width="1" height="12" fill="#c0c0c0"/>
<rect x="1228" y="668" width="1" height="8" fill="#c0c0c0"/>
<rect x="1236" y="667" width="1" height="9" fill="#c0c0c0"/>
<rect x="1244" y="659" width="1" height="17" fill="#c0c0c0"/>
<rect x="1252" y="660" width="1" height="16" fill="#c0c0c0"/>
<rect x="1260" y="660" width="1" height="16" fill="#c0c0c0"/>
<rect x="1268" y="667" width="1" height="9" fill="#c0c0c0"/>
<rect x="1276" y="671" width="1" height="5" fill="#c0c0c0"/>
<rect x="1284" y="675" width="1" height="3" fill="#c0c0c0"/>
<rect x="1292" y="675" width="1" height="9" fill="#c0c0c0"/>
<rect x="1300" y="675" width="1" height="12" fill="#c0c0c0"/>
<rect x="1308" y="675" width="1" height="12" fill="#c0c0c0"/>
<rect x="1316" y="675" width="1" height="12" fill="#c0c0c0"/>
<rect x="1324" y="675" width="1" height="11" fill="#c0c0c0"/>
<rect x="1332" y="675" width="1" height="10" fill="#c0c0c0"/>
<rect x="1340" y="675" width="1" height="13" fill="#c0c0c0"/>
<rect x="1348" y="675" width="1" height="12" fill="#c0c0c0"/>
<rect x="1356" y="675" width="1" height="10" fill="#c0c0c0"/>
<rect x="1364" y="675" width="1" height="7" fill="#c0c0c0"/>
<rect x="1372" y="675" width="1" height="3" fill="#c0c0c0"/>
<rect x="1380" y="673" width="1" height="3" fill="#c0c0c0"/>
<rect x="1388" y="670" width="1" height="6" fill="#c0c0c0"/>
<rect x="1396" y="664" width="1" height="12" fill="#c0c0c0"/>
<rect x="1404" y="661" width="1" height="15" fill="#c0c0c0"/>
<rect x="1412" y="659" width="1" height="17" fill="#c0c0c0"/>
<rect x="1420" y="654" width="1" height="22" fill="#c0c0c0"/>
<rect x="1428" y="647" width="1" height="29" fill="#c0c0c0"/>
<rect x="1436" y="642" width="1" height="34" fill="#c0c0c0"/>
<rect x="1444" y="640" width="1" height="36" fill="#c0c0c0"/>
<rect x="1452" y="634" width="1" height="42" fill="#c0c0c0"/>
<polyline points="0.0,634.4 9.9,637.4 19.8,639.8 32.2,642.6 44.6,645.5 53.3,645.5 62.0,643.6 71.9,641.1 84.3,638.6 96.7,636.1 106.6,634.4 119.0,633.6 133.9,633.6 143.8,634.4 156.2,633.4 168.6,631.9 181.0,628.7 193.4,623.2 205.8,615.8 218.2,608.4 230.6,599.7 243.0,592.2 252.9,586.8 260.4,583.6 267.8,581.8 277.7,581.6 287.6,583.1 297.5,588.5 309.9,596.0 322.3,605.9 334.7,617.0 347.1,630.7 359.5,643.1 371.9,655.5 384.3,667.1 396.7,679.0 407.4,687.7 414.9,693.9 424.8,700.1 432.2,703.3 442.2,705.1 452.1,706.3 462.0,705.1 471.9,703.8 481.8,700.1 491.7,698.9 501.7,697.4 511.6,697.6 521.5,699.4 528.9,700.8 538.9,705.1 548.8,708.8 558.7,714.2 568.6,721.2 578.5,728.6 588.4,734.8 598.4,740.3 608.3,746.0 618.2,751.7 628.1,755.9 635.6,757.4 648.0,755.9 657.9,752.2 667.8,748.4 677.7,743.5 687.6,739.3 697.5,736.5 707.5,737.3 717.4,739.8 727.3,744.7 737.2,751.7 747.1,757.1 757.1,761.3 767.0,764.6 776.9,765.8 786.8,765.0 796.7,760.8 802.5,757.6 809.9,753.4 819.8,747.2 832.2,736.5 844.6,727.4 857.0,715.0 869.4,701.3 881.8,686.5 894.2,671.6 906.6,655.5 919.0,641.8 931.4,629.4 943.8,619.5 956.2,612.1 968.6,607.1 981.0,602.2 993.4,601.4 1003.3,602.2 1015.7,606.4 1028.1,613.3 1040.5,622.0 1052.9,633.1 1065.3,644.3 1077.7,653.0 1087.6,658.4 1097.5,662.9 1107.5,665.4 1119.9,666.1 1132.3,666.1 1147.1,665.4 1162.0,664.9 1176.9,665.4 1191.8,664.9 1204.2,663.4 1212.4,663.1 1224.8,663.6 1237.2,663.1 1249.6,661.4 1262.0,660.7 1274.4,661.9 1284.3,664.9 1294.2,668.6 1304.1,670.8 1314.1,674.6 1324.0,679.0 1333.9,682.2 1341.3,685.2 1351.3,686.5 1363.7,686.5 1373.6,685.2 1383.5,682.7 1395.9,679.5 1405.8,675.8 1415.7,671.6 1425.6,666.6 1435.6,661.7 1443.0,656.7 1452.0,652.0" fill="none" stroke="#ff0000" stroke-width="1" stroke-dasharray="3 3"/>
</g>
<g shape-rendering="crispEdges"><line x1="1365" y1="681" x2="1442.2" y2="638.5" stroke="#ff0000" stroke-width="3.2"/>
<polygon points="1451,633.7 1442.7,643.4 1438.3,635.5" fill="#ff0000"/></g>
<g clip-path="url(#crsi)" shape-rendering="crispEdges">
<line x1="1" y1="814.5" x2="1647" y2="814.5" stroke="#c0c0c0" stroke-width="1" stroke-dasharray="3 3"/>
<line x1="1" y1="856.5" x2="1647" y2="856.5" stroke="#c0c0c0" stroke-width="1" stroke-dasharray="3 3"/>
<line x1="1" y1="905.5" x2="1647" y2="905.5" stroke="#c0c0c0" stroke-width="1" stroke-dasharray="3 3"/>
<polyline points="-4.0,855.5 4.0,853.7 12.0,851.2 20.0,846.2 28.0,850.4 36.0,846.2 44.0,840.5 52.0,835.3 60.0,837.1 68.0,840.5 76.0,839.5 84.0,841.3 92.0,850.4 100.0,847.5 108.0,844.2 116.0,840.5 124.0,838.0 132.0,845.5 140.0,838.8 148.0,832.6 156.0,831.4 164.0,828.4 172.0,836.3 180.0,835.6 188.0,823.2 196.0,819.4 204.0,822.7 212.0,821.4 220.0,817.5 228.0,819.4 236.0,818.5 244.0,825.6 252.0,830.1 260.0,826.4 268.0,828.1 276.0,831.4 284.0,849.2 292.0,852.4 300.0,853.7 308.0,851.2 316.0,849.2 324.0,859.9 332.0,864.3 340.0,866.6 348.0,864.1 356.0,871.5 364.0,863.1 372.0,876.0 380.0,882.7 388.0,874.7 396.0,873.5 404.0,874.2 412.0,876.5 420.0,858.1 428.0,859.4 436.0,860.6 444.0,866.6 452.0,858.1 460.0,858.1 468.0,865.3 476.0,848.2 484.0,861.9 492.0,866.6 500.0,866.6 508.0,871.5 516.0,876.5 524.0,876.5 532.0,876.5 540.0,876.5 548.0,876.5 556.0,879.7 564.0,890.9 572.0,895.3 580.0,885.9 588.0,884.2 596.0,886.6 604.0,882.2 612.0,890.4 620.0,874.2 628.0,863.1 636.0,865.3 644.0,865.3 652.0,867.3 660.0,863.1 668.0,864.3 676.0,875.2 684.0,875.2 692.0,882.2 700.0,885.9 708.0,890.4 716.0,889.1 724.0,891.4 732.0,885.4 740.0,880.4 748.0,882.7 756.0,881.4 764.0,870.3 772.0,877.2 780.0,871.8 788.0,868.5 796.0,859.4 804.0,868.2 812.0,863.6 820.0,851.8 828.0,854.9 836.0,856.6 844.0,846.7 852.0,843.3 860.0,840.5 868.0,837.5 876.0,836.3 884.0,839.5 892.0,835.1 900.0,829.4 908.0,829.4 916.0,825.2 924.0,834.3 932.0,834.3 940.0,836.3 948.0,835.1 956.0,825.2 964.0,834.3 972.0,832.1 980.0,830.1 988.0,841.3 996.0,845.0 1004.0,858.1 1012.0,859.4 1020.0,857.4 1028.0,860.6 1036.0,854.4 1044.0,864.3 1052.0,856.9 1060.0,855.4 1068.0,855.4 1076.0,856.6 1084.0,860.4 1092.0,852.4 1100.0,849.2 1108.0,854.2 1116.0,851.9 1124.0,848.2 1132.0,849.9 1140.0,842.5 1148.0,855.4 1156.0,859.1 1164.0,860.4 1172.0,860.4 1180.0,854.9 1188.0,846.2 1196.0,833.3 1204.0,848.7 1212.0,856.1 1220.0,859.1 1228.0,860.6 1236.0,851.2 1244.0,842.0 1252.0,857.4 1260.0,852.4 1268.0,860.6 1276.0,859.4 1284.0,865.3 1292.0,865.3 1300.0,863.1 1308.0,859.4 1316.0,858.1 1324.0,860.6 1332.0,856.9 1340.0,863.6 1348.0,858.6 1356.0,856.1 1364.0,856.1 1372.0,849.9 1380.0,849.5 1388.0,842.5 1396.0,837.1 1404.0,844.5 1412.0,853.7 1420.0,845.0 1428.0,840.5 1436.0,836.3 1444.0,837.1 1452.0,840.0" fill="none" stroke="#1e90ff" stroke-width="1" />
</g>
<g shape-rendering="crispEdges"><line x1="1345.3" y1="854.3" x2="1440.1" y2="839.8" stroke="#ff0000" stroke-width="3.2"/>
<polygon points="1450,838.3 1438.8,844.7 1437.4,835.6" fill="#ff0000"/></g>
<g shape-rendering="crispEdges" fill="#000">
<rect x="0" y="26" width="1648" height="1"/>
<rect x="0" y="561" width="1648" height="1"/>
<rect x="0" y="563" width="1648" height="1"/>
<rect x="0" y="782" width="1648" height="1"/>
<rect x="0" y="785" width="1648" height="1"/>
<rect x="0" y="927" width="1648" height="1"/>
<rect x="1647" y="26" width="1" height="536"/>
<rect x="1647" y="563" width="1" height="220"/>
<rect x="1647" y="785" width="1" height="143"/>
</g>
<rect x="1692" y="0" width="2" height="944" fill="#f0f0f0"/>
<g shape-rendering="crispEdges">
<rect x="1648" y="30" width="2" height="1" fill="#000"/>
<rect x="1648" y="63" width="2" height="1" fill="#000"/>
<rect x="1648" y="96" width="2" height="1" fill="#000"/>
<rect x="1648" y="129" width="2" height="1" fill="#000"/>
<rect x="1648" y="162" width="2" height="1" fill="#000"/>
<rect x="1648" y="195" width="2" height="1" fill="#000"/>
<rect x="1648" y="228" width="2" height="1" fill="#000"/>
<rect x="1648" y="261" width="2" height="1" fill="#000"/>
<rect x="1648" y="294" width="2" height="1" fill="#000"/>
<rect x="1648" y="327" width="2" height="1" fill="#000"/>
<rect x="1648" y="360" width="2" height="1" fill="#000"/>
<rect x="1648" y="393" width="2" height="1" fill="#000"/>
<rect x="1648" y="426" width="2" height="1" fill="#000"/>
<rect x="1648" y="459" width="2" height="1" fill="#000"/>
<rect x="1648" y="492" width="2" height="1" fill="#000"/>
<rect x="1648" y="525" width="2" height="1" fill="#000"/>
<rect x="1648" y="558" width="2" height="1" fill="#000"/>
</g>
<text x="1653.6" y="33.7" font-family="Liberation Sans, sans-serif" font-size="10" fill="#000" text-anchor="start" textLength="32.7" lengthAdjust="spacingAndGlyphs">1.37660</text>
<text x="1653.6" y="66.7" font-family="Liberation Sans, sans-serif" font-size="10" fill="#000" text-anchor="start" textLength="32.7" lengthAdjust="spacingAndGlyphs">1.37400</text>
<text x="1653.6" y="99.7" font-family="Liberation Sans, sans-serif" font-size="10" fill="#000" text-anchor="start" textLength="32.7" lengthAdjust="spacingAndGlyphs">1.37135</text>
<text x="1653.6" y="132.7" font-family="Liberation Sans, sans-serif" font-size="10" fill="#000" text-anchor="start" textLength="32.7" lengthAdjust="spacingAndGlyphs">1.36875</text>
<text x="1653.6" y="165.7" font-family="Liberation Sans, sans-serif" font-size="10" fill="#000" text-anchor="start" textLength="32.7" lengthAdjust="spacingAndGlyphs">1.36615</text>
<text x="1653.6" y="198.7" font-family="Liberation Sans, sans-serif" font-size="10" fill="#000" text-anchor="start" textLength="32.7" lengthAdjust="spacingAndGlyphs">1.36355</text>
<text x="1653.6" y="231.7" font-family="Liberation Sans, sans-serif" font-size="10" fill="#000" text-anchor="start" textLength="32.7" lengthAdjust="spacingAndGlyphs">1.36095</text>
<text x="1653.6" y="264.7" font-family="Liberation Sans, sans-serif" font-size="10" fill="#000" text-anchor="start" textLength="32.7" lengthAdjust="spacingAndGlyphs">1.35835</text>
<text x="1653.6" y="297.7" font-family="Liberation Sans, sans-serif" font-size="10" fill="#000" text-anchor="start" textLength="32.7" lengthAdjust="spacingAndGlyphs">1.35575</text>
<text x="1653.6" y="330.7" font-family="Liberation Sans, sans-serif" font-size="10" fill="#000" text-anchor="start" textLength="32.7" lengthAdjust="spacingAndGlyphs">1.35315</text>
<text x="1653.6" y="363.7" font-family="Liberation Sans, sans-serif" font-size="10" fill="#000" text-anchor="start" textLength="32.7" lengthAdjust="spacingAndGlyphs">1.35050</text>
<text x="1653.6" y="396.7" font-family="Liberation Sans, sans-serif" font-size="10" fill="#000" text-anchor="start" textLength="32.7" lengthAdjust="spacingAndGlyphs">1.34790</text>
<text x="1653.6" y="429.7" font-family="Liberation Sans, sans-serif" font-size="10" fill="#000" text-anchor="start" textLength="32.7" lengthAdjust="spacingAndGlyphs">1.34530</text>
<text x="1653.6" y="462.7" font-family="Liberation Sans, sans-serif" font-size="10" fill="#000" text-anchor="start" textLength="32.7" lengthAdjust="spacingAndGlyphs">1.34270</text>
<text x="1653.6" y="495.7" font-family="Liberation Sans, sans-serif" font-size="10" fill="#000" text-anchor="start" textLength="32.7" lengthAdjust="spacingAndGlyphs">1.34010</text>
<text x="1653.6" y="528.7" font-family="Liberation Sans, sans-serif" font-size="10" fill="#000" text-anchor="start" textLength="32.7" lengthAdjust="spacingAndGlyphs">1.33750</text>
<text x="1653.6" y="561.7" font-family="Liberation Sans, sans-serif" font-size="10" fill="#000" text-anchor="start" textLength="32.7" lengthAdjust="spacingAndGlyphs">1.33490</text>
<rect x="1649" y="165" width="41" height="11" fill="#ff4500" shape-rendering="crispEdges"/>
<text x="1653.6" y="174.3" font-family="Liberation Sans, sans-serif" font-size="10" fill="#fff" text-anchor="start" textLength="32.7" lengthAdjust="spacingAndGlyphs">1.36545</text>
<rect x="1642.5" y="169.5" width="4" height="4" fill="#fff" stroke="#ff4500" stroke-width="1" shape-rendering="crispEdges"/>
<rect x="1649" y="190" width="41" height="11" fill="#ff0000" shape-rendering="crispEdges"/>
<text x="1653.6" y="199.3" font-family="Liberation Sans, sans-serif" font-size="10" fill="#fff" text-anchor="start" textLength="32.7" lengthAdjust="spacingAndGlyphs">1.36348</text>
<rect x="1649" y="219" width="41" height="11" fill="#000000" shape-rendering="crispEdges"/>
<text x="1653.6" y="228.3" font-family="Liberation Sans, sans-serif" font-size="10" fill="#fff" text-anchor="start" textLength="32.7" lengthAdjust="spacingAndGlyphs">1.36130</text>
<rect x="1649" y="231" width="41" height="11" fill="#32cd32" shape-rendering="crispEdges"/>
<text x="1653.6" y="240.3" font-family="Liberation Sans, sans-serif" font-size="10" fill="#fff" text-anchor="start" textLength="32.7" lengthAdjust="spacingAndGlyphs">1.36024</text>
<rect x="1649" y="257" width="41" height="11" fill="#0000ff" shape-rendering="crispEdges"/>
<text x="1653.6" y="266.3" font-family="Liberation Sans, sans-serif" font-size="10" fill="#fff" text-anchor="start" textLength="32.7" lengthAdjust="spacingAndGlyphs">1.35819</text>
<rect x="1642.5" y="261.5" width="4" height="4" fill="#fff" stroke="#0000ff" stroke-width="1" shape-rendering="crispEdges"/>
<rect x="1649" y="285" width="41" height="11" fill="#0000ff" shape-rendering="crispEdges"/>
<text x="1653.6" y="294.3" font-family="Liberation Sans, sans-serif" font-size="10" fill="#fff" text-anchor="start" textLength="32.7" lengthAdjust="spacingAndGlyphs">1.35599</text>
<rect x="1642.5" y="289.5" width="4" height="4" fill="#fff" stroke="#0000ff" stroke-width="1" shape-rendering="crispEdges"/>
<text x="1651.5" y="574" font-family="Liberation Sans, sans-serif" font-size="10" fill="#000" text-anchor="start" textLength="37.5" lengthAdjust="spacingAndGlyphs">0.005014</text>
<text x="1653.5" y="679" font-family="Liberation Sans, sans-serif" font-size="10" fill="#000" text-anchor="start" textLength="17" lengthAdjust="spacingAndGlyphs">0.00</text>
<text x="1650.5" y="778.6" font-family="Liberation Sans, sans-serif" font-size="10" fill="#000" text-anchor="start" textLength="41.5" lengthAdjust="spacingAndGlyphs">-0.004812</text>
<rect x="1648" y="675" width="3" height="1" fill="#000" shape-rendering="crispEdges"/>
<text transform="translate(1650.5,795.4) scale(0.915,1)" font-family="Liberation Sans, sans-serif" font-size="10" fill="#000" text-anchor="start">100</text>
<text transform="translate(1650.5,818.4) scale(0.915,1)" font-family="Liberation Sans, sans-serif" font-size="10" fill="#000" text-anchor="start">80</text>
<text transform="translate(1650.5,860.4) scale(0.915,1)" font-family="Liberation Sans, sans-serif" font-size="10" fill="#000" text-anchor="start">50</text>
<text transform="translate(1650.5,909.4) scale(0.915,1)" font-family="Liberation Sans, sans-serif" font-size="10" fill="#000" text-anchor="start">15</text>
<text transform="translate(1650.5,924.1) scale(0.915,1)" font-family="Liberation Sans, sans-serif" font-size="10" fill="#000" text-anchor="start">0</text>
<text x="-6.5" y="576" font-family="Liberation Sans, sans-serif" font-size="10" fill="#000" text-anchor="start" textLength="146" lengthAdjust="spacingAndGlyphs">MACD(12,26,9) 0.001874 0.001118</text>
<text x="-7" y="797" font-family="Liberation Sans, sans-serif" font-size="10" fill="#000" text-anchor="start" textLength="67" lengthAdjust="spacingAndGlyphs">RSI(14) 61.3414</text>
<g shape-rendering="crispEdges">
<rect x="-12" y="928" width="1" height="3" fill="#000"/>
<rect x="52" y="928" width="1" height="3" fill="#000"/>
<rect x="116" y="928" width="1" height="3" fill="#000"/>
<rect x="180" y="928" width="1" height="3" fill="#000"/>
<rect x="244" y="928" width="1" height="3" fill="#000"/>
<rect x="308" y="928" width="1" height="3" fill="#000"/>
<rect x="372" y="928" width="1" height="3" fill="#000"/>
<rect x="436" y="928" width="1" height="3" fill="#000"/>
<rect x="500" y="928" width="1" height="3" fill="#000"/>
<rect x="564" y="928" width="1" height="3" fill="#000"/>
<rect x="628" y="928" width="1" height="3" fill="#000"/>
<rect x="692" y="928" width="1" height="3" fill="#000"/>
<rect x="756" y="928" width="1" height="3" fill="#000"/>
<rect x="820" y="928" width="1" height="3" fill="#000"/>
<rect x="884" y="928" width="1" height="3" fill="#000"/>
<rect x="948" y="928" width="1" height="3" fill="#000"/>
<rect x="1012" y="928" width="1" height="3" fill="#000"/>
<rect x="1076" y="928" width="1" height="3" fill="#000"/>
<rect x="1140" y="928" width="1" height="3" fill="#000"/>
<rect x="1204" y="928" width="1" height="3" fill="#000"/>
<rect x="1268" y="928" width="1" height="3" fill="#000"/>
<rect x="1332" y="928" width="1" height="3" fill="#000"/>
<rect x="1396" y="928" width="1" height="3" fill="#000"/>
</g>
<text transform="translate(-12.5,940) scale(0.915,1)" font-family="Liberation Sans, sans-serif" font-size="10" fill="#000" text-anchor="start">6 Jan 2022</text>
<text transform="translate(51.5,940) scale(0.915,1)" font-family="Liberation Sans, sans-serif" font-size="10" fill="#000" text-anchor="start">7 Jan 16:00</text>
<text transform="translate(115.5,940) scale(0.915,1)" font-family="Liberation Sans, sans-serif" font-size="10" fill="#000" text-anchor="start">11 Jan 00:00</text>
<text transform="translate(179.5,940) scale(0.915,1)" font-family="Liberation Sans, sans-serif" font-size="10" fill="#000" text-anchor="start">12 Jan 08:00</text>
<text transform="translate(243.5,940) scale(0.915,1)" font-family="Liberation Sans, sans-serif" font-size="10" fill="#000" text-anchor="start">13 Jan 16:00</text>
<text transform="translate(307.5,940) scale(0.915,1)" font-family="Liberation Sans, sans-serif" font-size="10" fill="#000" text-anchor="start">17 Jan 00:00</text>
<text transform="translate(371.5,940) scale(0.915,1)" font-family="Liberation Sans, sans-serif" font-size="10" fill="#000" text-anchor="start">18 Jan 08:00</text>
<text transform="translate(435.5,940) scale(0.915,1)" font-family="Liberation Sans, sans-serif" font-size="10" fill="#000" text-anchor="start">19 Jan 16:00</text>
<text transform="translate(499.5,940) scale(0.915,1)" font-family="Liberation Sans, sans-serif" font-size="10" fill="#000" text-anchor="start">21 Jan 00:00</text>
<text transform="translate(563.5,940) scale(0.915,1)" font-family="Liberation Sans, sans-serif" font-size="10" fill="#000" text-anchor="start">24 Jan 08:00</text>
<text transform="translate(627.5,940) scale(0.915,1)" font-family="Liberation Sans, sans-serif" font-size="10" fill="#000" text-anchor="start">25 Jan 16:00</text>
<text transform="translate(691.5,940) scale(0.915,1)" font-family="Liberation Sans, sans-serif" font-size="10" fill="#000" text-anchor="start">27 Jan 00:00</text>
<text transform="translate(755.5,940) scale(0.915,1)" font-family="Liberation Sans, sans-serif" font-size="10" fill="#000" text-anchor="start">28 Jan 08:00</text>
<text transform="translate(819.5,940) scale(0.915,1)" font-family="Liberation Sans, sans-serif" font-size="10" fill="#000" text-anchor="start">31 Jan 16:00</text>
<text transform="translate(883.5,940) scale(0.915,1)" font-family="Liberation Sans, sans-serif" font-size="10" fill="#000" text-anchor="start">2 Feb 00:00</text>
<text transform="translate(947.5,940) scale(0.915,1)" font-family="Liberation Sans, sans-serif" font-size="10" fill="#000" text-anchor="start">3 Feb 08:00</text>
<text transform="translate(1011.5,940) scale(0.915,1)" font-family="Liberation Sans, sans-serif" font-size="10" fill="#000" text-anchor="start">4 Feb 16:00</text>
<text transform="translate(1075.5,940) scale(0.915,1)" font-family="Liberation Sans, sans-serif" font-size="10" fill="#000" text-anchor="start">8 Feb 00:00</text>
<text transform="translate(1139.5,940) scale(0.915,1)" font-family="Liberation Sans, sans-serif" font-size="10" fill="#000" text-anchor="start">9 Feb 08:00</text>
<text transform="translate(1203.5,940) scale(0.915,1)" font-family="Liberation Sans, sans-serif" font-size="10" fill="#000" text-anchor="start">10 Feb 16:00</text>
<text transform="translate(1267.5,940) scale(0.915,1)" font-family="Liberation Sans, sans-serif" font-size="10" fill="#000" text-anchor="start">14 Feb 00:00</text>
<text transform="translate(1331.5,940) scale(0.915,1)" font-family="Liberation Sans, sans-serif" font-size="10" fill="#000" text-anchor="start">15 Feb 08:00</text>
<text transform="translate(1395.5,940) scale(0.915,1)" font-family="Liberation Sans, sans-serif" font-size="10" fill="#000" text-anchor="start">16 Feb 16:00</text>
<g shape-rendering="crispEdges">
<rect x="0" y="0" width="1694" height="22" fill="#f0f0f0"/>
<rect x="0" y="22" width="1694" height="1" fill="#b4b4b4"/>
<rect x="0" y="23" width="1694" height="1" fill="#8c8c8c"/>
<rect x="0" y="24" width="1694" height="2" fill="#ffffff"/>
</g>
<defs>
<linearGradient id="ggold" x1="0" y1="0" x2="1" y2="1"><stop offset="0" stop-color="#ffe878"/><stop offset="0.5" stop-color="#f4c020"/><stop offset="1" stop-color="#d89410"/></linearGradient>
<linearGradient id="ggreen" x1="0" y1="0" x2="0" y2="1"><stop offset="0" stop-color="#7dfc7d"/><stop offset="1" stop-color="#10a010"/></linearGradient>
<linearGradient id="gbtn" x1="0" y1="0" x2="0" y2="1"><stop offset="0" stop-color="#f4f4f4"/><stop offset="1" stop-color="#cfcfcf"/></linearGradient>
<radialGradient id="gred" cx="0.4" cy="0.35" r="0.7"><stop offset="0" stop-color="#f0503c"/><stop offset="1" stop-color="#c81808"/></radialGradient>
<radialGradient id="gclock" cx="0.5" cy="0.4" r="0.6"><stop offset="0" stop-color="#ffffff"/><stop offset="1" stop-color="#d8e4f0"/></radialGradient>
<pattern id="chk" width="2" height="2" patternUnits="userSpaceOnUse"><rect width="2" height="2" fill="#f8f8f8"/><rect width="1" height="1" fill="#ececec"/><rect x="1" y="1" width="1" height="1" fill="#ececec"/></pattern>
</defs>
<rect x="0" y="16" width="1.5" height="3" fill="#d8a838"/>
<rect x="8" y="0" width="1" height="20" fill="#a0a0a0" shape-rendering="crispEdges"/>
<g>
<path d="M18.5,2.5 h8 l3,3 v10 h-11 z" fill="#fcfcfc" stroke="#8a8a8a" stroke-width="1"/>
<path d="M26.5,2.5 v3 h3" fill="#e8e8e8" stroke="#8a8a8a" stroke-width="0.8"/>
<rect x="20.5" y="4.5" width="3" height="1.2" fill="#909090"/>
<rect x="20.5" y="7.5" width="6" height="1" fill="#a8a8a8"/><rect x="20.5" y="10" width="4" height="1" fill="#a8a8a8"/>
<path d="M26,8.5 h4 v4 h4 v4 h-4 v4 h-4 v-4 h-4 v-4 h4 z" fill="url(#ggreen)" stroke="#108010" stroke-width="0.8"/>
</g>
<text x="37.5" y="13.2" font-family="Liberation Sans, sans-serif" font-size="12.4" fill="#000" text-anchor="start" textLength="64.5" lengthAdjust="spacingAndGlyphs" >New Order</text>
<path d="M114.2,11.3 L121.6,15.6 L129.5,9.6 L129.5,13.2 L121.6,17.9 L114.2,12.9 z" fill="#b07810" stroke="#8a5a08" stroke-width="0.5"/>
<path d="M114.3,12.1 L121.6,16.6 L129.4,11.3" fill="none" stroke="#f8e098" stroke-width="0.7"/>
<path d="M120.2,3.2 L129.5,9.6 L121.6,15.6 L114.2,11.3 Q118.3,8.2 120.2,3.2 z" fill="url(#ggold)" stroke="#b88010" stroke-width="0.6"/>
<path d="M120.4,4.2 Q118.6,8.4 115.2,11.2" fill="none" stroke="#fff4b8" stroke-width="1"/>
<path d="M144.5,3 L150,2.5 L155,3.5 L155,12 L144.5,12 z" fill="#1e90ff" stroke="#1878e0" stroke-width="0.6"/>
<path d="M148.5,4.5 L154.5,5 L154.5,11 L148.5,11 z" fill="#e8f4ff"/>
<rect x="149.5" y="6" width="4" height="1.2" fill="#3a8ae8"/>
<path d="M145,17.2 a2.6,2.6 0 0 1 0,-5.2 a3.2,3.2 0 0 1 6,-1 a2.8,2.8 0 0 1 4.4,1.6 a2.3,2.3 0 0 1 -0.4,4.6 z" fill="#f4f8ff" stroke="#5a7ec0" stroke-width="1"/>
<g fill="none">
<path d="M178,2.4 a7.4,7.4 0 0 0 0,14.8" stroke="#a8c0f0" stroke-width="1.5"/>
<path d="M178,5.2 a4.6,4.6 0 0 0 0,9.2" stroke="#6088e0" stroke-width="1.3"/>
<path d="M178,2.4 a7.4,7.4 0 0 1 0,14.8" stroke="#a8d4a8" stroke-width="1.5"/>
<path d="M178,5.2 a4.6,4.6 0 0 1 0,9.2" stroke="#78bc78" stroke-width="1.3"/>
</g>
<path d="M178.6,17.2 a7.4,7.4 0 0 0 6.6,-5.6 l-6.6,-1.2 z" fill="#70b870" opacity="0.75"/>
<rect x="177.5" y="10" width="1.4" height="7.6" fill="#28b028"/>
<circle cx="178" cy="9.8" r="1.7" fill="#2858d0"/>
<path d="M198,8 L212.5,8 L207,17.5 L204,17 z" fill="#f8d848" stroke="#d8a820" stroke-width="0.6"/>
<ellipse cx="205" cy="7" rx="8" ry="2.8" fill="#58a8e0" stroke="#3888c8" stroke-width="0.6"/>
<path d="M200.5,6.5 a4.5,4.5 0 0 1 9,0 z" fill="#68b4e8" stroke="#3888c8" stroke-width="0.6"/>
<circle cx="209.5" cy="13.6" r="4" fill="#e02810"/>
<rect x="207.9" y="12" width="3.2" height="3.2" fill="#fff"/>
<text x="218" y="13.2" font-family="Liberation Sans, sans-serif" font-size="12.4" fill="#000" text-anchor="start" textLength="71" lengthAdjust="spacingAndGlyphs" >AutoTrading</text>
<rect x="297" y="0" width="1" height="20" fill="#a0a0a0" shape-rendering="crispEdges"/>
<rect x="298" y="0" width="1" height="20" fill="#fff"/>
<rect x="301" y="1" width="3" height="1" fill="#b8b8b8" shape-rendering="crispEdges"/>
<rect x="301" y="3" width="3" height="1" fill="#b8b8b8" shape-rendering="crispEdges"/>
<rect x="301" y="5" width="3" height="1" fill="#b8b8b8" shape-rendering="crispEdges"/>
<rect x="301" y="7" width="3" height="1" fill="#b8b8b8" shape-rendering="crispEdges"/>
<rect x="301" y="9" width="3" height="1" fill="#b8b8b8" shape-rendering="crispEdges"/>
<rect x="301" y="11" width="3" height="1" fill="#b8b8b8" shape-rendering="crispEdges"/>
<rect x="301" y="13" width="3" height="1" fill="#b8b8b8" shape-rendering="crispEdges"/>
<rect x="301" y="15" width="3" height="1" fill="#b8b8b8" shape-rendering="crispEdges"/>
<rect x="301" y="17" width="3" height="1" fill="#b8b8b8" shape-rendering="crispEdges"/>
<g stroke="#444" stroke-width="1" fill="#444"><line x1="315.5" y1="5.5" x2="315.5" y2="17.5"/><line x1="313.0" y1="15.5" x2="326.3" y2="15.5"/><polygon points="315.5,4.5 313.8,7.0 317.2,7.0" stroke="none"/><polygon points="327.3,15.5 324.8,13.8 324.8,17.2" stroke="none"/></g>
<g fill="#109010" shape-rendering="crispEdges"><rect x="321" y="5" width="1.3" height="9"/><rect x="321" y="6" width="3.2" height="1.2"/><rect x="318.8" y="12" width="3" height="1.2"/></g>
<rect x="335" y="0" width="25" height="21" fill="url(#chk)" shape-rendering="crispEdges"/>
<rect x="335" y="0" width="1" height="20" fill="#a0a0a0" shape-rendering="crispEdges"/>
<g stroke="#444" stroke-width="1" fill="#444"><line x1="343.5" y1="5.5" x2="343.5" y2="17.5"/><line x1="341.0" y1="15.5" x2="354.3" y2="15.5"/><polygon points="343.5,4.5 341.8,7.0 345.2,7.0" stroke="none"/><polygon points="355.3,15.5 352.8,13.8 352.8,17.2" stroke="none"/></g>
<rect x="349" y="2" width="1.2" height="12" fill="#108010"/>
<rect x="347.2" y="4.2" width="4.8" height="7.5" fill="url(#ggreen)" stroke="#108010" stroke-width="0.8"/>
<g stroke="#444" stroke-width="1" fill="#444"><line x1="371.5" y1="5.5" x2="371.5" y2="17.5"/><line x1="369.0" y1="15.5" x2="382.3" y2="15.5"/><polygon points="371.5,4.5 369.8,7.0 373.2,7.0" stroke="none"/><polygon points="383.3,15.5 380.8,13.8 380.8,17.2" stroke="none"/></g>
<path d="M370,13 C373,10 375,6.5 377,7.2 S380,10.5 381.5,11" fill="none" stroke="#209020" stroke-width="0.9"/>
<rect x="392" y="0" width="1" height="20" fill="#a0a0a0" shape-rendering="crispEdges"/>
<line x1="411" y1="11.8" x2="416.2" y2="16.6" stroke="#c8a018" stroke-width="2.6" stroke-linecap="round"/>
<line x1="411.4" y1="11.6" x2="416" y2="15.9" stroke="#f0d860" stroke-width="0.9"/>
<circle cx="407" cy="7.8" r="5.4" fill="#d4ecfc" stroke="#3a80cc" stroke-width="1.1"/>
<rect x="404" y="7.1" width="6" height="1.5" fill="#3c80b0"/>
<rect x="406.25" y="4.8" width="1.5" height="6" fill="#3c80b0"/>
<line x1="439" y1="11.8" x2="444.2" y2="16.6" stroke="#c8a018" stroke-width="2.6" stroke-linecap="round"/>
<line x1="439.4" y1="11.6" x2="444" y2="15.9" stroke="#f0d860" stroke-width="0.9"/>
<circle cx="435" cy="7.8" r="5.4" fill="#d4ecfc" stroke="#3a80cc" stroke-width="1.1"/>
<rect x="432" y="7.1" width="6" height="1.5" fill="#3c80b0"/>
<rect x="457" y="2" width="8" height="8" fill="#48a020"/>
<rect x="457" y="2" width="8" height="2.2" fill="#308010"/>
<path d="M458.3,5.5 h5.4 v3.5 h-1 v-1 h-3.4 v1 h-1 z" fill="#fff"/>
<rect x="459.5" y="6.4" width="3" height="0.8" fill="#48a020" opacity="0.6"/>
<rect x="458" y="2.8" width="1" height="1" fill="#fff" opacity="0.8"/>
<rect x="465" y="2" width="8" height="8" fill="#2860d8"/>
<rect x="465" y="2" width="8" height="2.2" fill="#1040b0"/>
<path d="M466.3,5.5 h5.4 v3.5 h-1 v-1 h-3.4 v1 h-1 z" fill="#fff"/>
<rect x="467.5" y="6.4" width="3" height="0.8" fill="#2860d8" opacity="0.6"/>
<rect x="466" y="2.8" width="1" height="1" fill="#fff" opacity="0.8"/>
<rect x="457" y="10" width="8" height="8" fill="#2860d8"/>
<rect x="457" y="10" width="8" height="2.2" fill="#1040b0"/>
<path d="M458.3,13.5 h5.4 v3.5 h-1 v-1 h-3.4 v1 h-1 z" fill="#fff"/>
<rect x="459.5" y="14.4" width="3" height="0.8" fill="#2860d8" opacity="0.6"/>
<rect x="458" y="10.8" width="1" height="1" fill="#fff" opacity="0.8"/>
<rect x="465" y="10" width="8" height="8" fill="#48a020"/>
<rect x="465" y="10" width="8" height="2.2" fill="#308010"/>
<path d="M466.3,13.5 h5.4 v3.5 h-1 v-1 h-3.4 v1 h-1 z" fill="#fff"/>
<rect x="467.5" y="14.4" width="3" height="0.8" fill="#48a020" opacity="0.6"/>
<rect x="466" y="10.8" width="1" height="1" fill="#fff" opacity="0.8"/>
<rect x="482" y="0" width="1" height="20" fill="#909090" shape-rendering="crispEdges"/>
<rect x="487" y="0" width="25" height="21" fill="url(#chk)" shape-rendering="crispEdges"/>
<rect x="487" y="0" width="1" height="20" fill="#a0a0a0" shape-rendering="crispEdges"/>
<g stroke="#444" stroke-width="1" fill="#444"><line x1="495.5" y1="5.5" x2="495.5" y2="17.5"/><line x1="493.0" y1="15.5" x2="506.3" y2="15.5"/><polygon points="495.5,4.5 493.8,7.0 497.2,7.0" stroke="none"/><polygon points="507.3,15.5 504.8,13.8 504.8,17.2" stroke="none"/></g>
<polygon points="500.3,6.3 504.2,9.7 500.3,13.2" fill="#30c030" stroke="#109010" stroke-width="0.7"/>
<rect x="515" y="0" width="1" height="20" fill="#a0a0a0" shape-rendering="crispEdges"/>
<rect x="516" y="0" width="24" height="21" fill="url(#chk)" shape-rendering="crispEdges"/>
<g stroke="#444" stroke-width="1" fill="#444"><line x1="523.5" y1="5.5" x2="523.5" y2="17.5"/><line x1="521.0" y1="15.5" x2="534.3" y2="15.5"/><polygon points="523.5,4.5 521.8,7.0 525.2,7.0" stroke="none"/><polygon points="535.3,15.5 532.8,13.8 532.8,17.2" stroke="none"/></g>
<rect x="529.3" y="4.3" width="1.2" height="9.5" fill="#1868b0"/>
<path d="M535,9.6 h-3.5 M531.2,9.6 l2.6,-2 v4 z" fill="#e04010" stroke="#e04010" stroke-width="0.9"/>
<rect x="544" y="0" width="1" height="20" fill="#a0a0a0" shape-rendering="crispEdges"/>
<path d="M554.5,2.5 h7 l3.5,3.5 v9.5 h-10.5 z" fill="#fcfcfc" stroke="#8a8a8a" stroke-width="1"/>
<path d="M561.5,2.5 v3.5 h3.5" fill="#e8e8e8" stroke="#8a8a8a" stroke-width="0.8"/>
<path d="M558.5,5.5 c-1.6,0 -1.2,3 -1.2,5 M556.5,8 h2.5" fill="none" stroke="#707070" stroke-width="0.9"/>
<path d="M562,8 h4 v4 h4 v4 h-4 v4 h-4 v-4 h-4 v-4 h4 z" fill="url(#ggreen)" stroke="#108010" stroke-width="0.8"/>
<polygon points="576,9.5 581,9.5 578.5,12" fill="#000"/>
<circle cx="600" cy="9.8" r="7.4" fill="#2870d0"/>
<circle cx="600" cy="9.8" r="7.4" fill="none" stroke="#1850a8" stroke-width="0.8"/>
<circle cx="600" cy="9.5" r="5.2" fill="url(#gclock)"/>
<path d="M600,6 v3.8 h2.8" fill="none" stroke="#404040" stroke-width="1"/>
<polygon points="615,9.5 620,9.5 617.5,12" fill="#000"/>
<rect x="631.5" y="3.5" width="15" height="13" fill="#fcfcfc" stroke="#2868c8" stroke-width="1"/>
<rect x="631" y="3" width="16" height="2.6" fill="#4a90e0"/>
<rect x="632" y="10.3" width="14" height="0.9" fill="#2868c8"/>
<path d="M633.5,9 l2.5,-1.2 l2,0.6 l2,-1.6 l2,0.8 l2.5,-1.4" fill="none" stroke="#b03010" stroke-width="1.1"/>
<path d="M633.5,14.5 l2.5,-1.2 l2,0.9 l2.5,-2 l2,1.6 l2,-0.6" fill="none" stroke="#209020" stroke-width="1.1"/>
<polygon points="654,9.5 659,9.5 656.5,12" fill="#000"/>
<rect x="665" y="0" width="1" height="20" fill="#a0a0a0" shape-rendering="crispEdges"/>
<rect x="666" y="0" width="1" height="20" fill="#fff"/>
<rect x="669" y="1" width="3" height="1" fill="#b8b8b8" shape-rendering="crispEdges"/>
<rect x="669" y="3" width="3" height="1" fill="#b8b8b8" shape-rendering="crispEdges"/>
<rect x="669" y="5" width="3" height="1" fill="#b8b8b8" shape-rendering="crispEdges"/>
<rect x="669" y="7" width="3" height="1" fill="#b8b8b8" shape-rendering="crispEdges"/>
<rect x="669" y="9" width="3" height="1" fill="#b8b8b8" shape-rendering="crispEdges"/>
<rect x="669" y="11" width="3" height="1" fill="#b8b8b8" shape-rendering="crispEdges"/>
<rect x="669" y="13" width="3" height="1" fill="#b8b8b8" shape-rendering="crispEdges"/>
<rect x="669" y="15" width="3" height="1" fill="#b8b8b8" shape-rendering="crispEdges"/>
<rect x="669" y="17" width="3" height="1" fill="#b8b8b8" shape-rendering="crispEdges"/>
<rect x="675" y="0" width="25" height="21" fill="url(#chk)" shape-rendering="crispEdges"/>
<rect x="675" y="0" width="1" height="20" fill="#a0a0a0" shape-rendering="crispEdges"/>
<path d="M683,3.2 V14.4 L685.9,12.2 L688,17 L689.8,16.1 L687.8,11.5 L691.2,10.7 z" fill="#404040"/>
<g stroke="#444" stroke-width="1" shape-rendering="crispEdges"><line x1="708" y1="10.5" x2="714" y2="10.5"/><line x1="717" y1="10.5" x2="723" y2="10.5"/><line x1="715.5" y1="3" x2="715.5" y2="9"/><line x1="715.5" y1="12" x2="715.5" y2="18"/><rect x="715" y="10" width="1" height="1" fill="#444" stroke="none"/></g>
<rect x="732" y="0" width="1" height="20" fill="#a0a0a0" shape-rendering="crispEdges"/>
<rect x="749" y="4" width="1" height="13" fill="#505050" shape-rendering="crispEdges"/>
<rect x="772" y="10" width="12" height="1" fill="#505050" shape-rendering="crispEdges"/>
<line x1="799.7" y1="16.8" x2="812" y2="4.8" stroke="#505050" stroke-width="1.1"/>
<g stroke="#505050" stroke-width="0.9"><line x1="826" y1="13" x2="838" y2="3.5"/><line x1="827.5" y1="16" x2="840" y2="6.5"/><line x1="829" y1="9" x2="829" y2="16"/><line x1="832" y1="7" x2="832" y2="14"/><line x1="835" y1="4.5" x2="835" y2="11.5"/><line x1="838" y1="2.5" x2="838" y2="9"/></g>
<text x="837" y="19" font-family="Liberation Sans, sans-serif" font-size="6.5" fill="#303030" text-anchor="start" textLength="4" lengthAdjust="spacingAndGlyphs" font-weight="bold">E</text>
<line x1="855" y1="3.5" x2="868" y2="3.5" stroke="#505050" stroke-width="1" stroke-dasharray="1 1" shape-rendering="crispEdges"/>
<line x1="855" y1="5.5" x2="868" y2="5.5" stroke="#505050" stroke-width="1" stroke-dasharray="1 1" shape-rendering="crispEdges"/>
<line x1="855" y1="7.5" x2="868" y2="7.5" stroke="#505050" stroke-width="1" stroke-dasharray="1 1" shape-rendering="crispEdges"/>
<line x1="855" y1="10.5" x2="868" y2="10.5" stroke="#505050" stroke-width="1" stroke-dasharray="1 1" shape-rendering="crispEdges"/>
<line x1="855" y1="14.5" x2="868" y2="14.5" stroke="#505050" stroke-width="1" stroke-dasharray="1 1" shape-rendering="crispEdges"/>
<text x="865" y="19" font-family="Liberation Sans, sans-serif" font-size="6.5" fill="#303030" text-anchor="start" textLength="3.8" lengthAdjust="spacingAndGlyphs" font-weight="bold">F</text>
<text x="885.8" y="15" font-family="Liberation Sans, sans-serif" font-size="12.2" fill="#505050" text-anchor="start" textLength="7.8" lengthAdjust="spacingAndGlyphs" >A</text>
<rect x="912.5" y="4.5" width="11" height="12" fill="none" stroke="#505050" stroke-width="1" stroke-dasharray="1 1" shape-rendering="crispEdges"/>
<text x="914.3" y="14.8" font-family="Liberation Sans, sans-serif" font-size="11.5" fill="#484848" text-anchor="start" textLength="7.4" lengthAdjust="spacingAndGlyphs" >T</text>
<polygon points="939,7 942.5,3.8 946,7 942.5,8.5" fill="#404040"/><polygon points="946.5,13 950,11.3 953.3,13 950,16.6" fill="#404040"/><path d="M941,11.8 l2,1.8 l5.5,-6" fill="none" stroke="#404040" stroke-width="1.1"/>
<polygon points="960,9.5 965,9.5 962.5,12" fill="#000"/>
<rect x="971" y="0" width="1" height="20" fill="#a0a0a0" shape-rendering="crispEdges"/>
<rect x="972" y="0" width="1" height="20" fill="#fff"/>
<rect x="974" y="1" width="3" height="1" fill="#b8b8b8" shape-rendering="crispEdges"/>
<rect x="974" y="3" width="3" height="1" fill="#b8b8b8" shape-rendering="crispEdges"/>
<rect x="974" y="5" width="3" height="1" fill="#b8b8b8" shape-rendering="crispEdges"/>
<rect x="974" y="7" width="3" height="1" fill="#b8b8b8" shape-rendering="crispEdges"/>
<rect x="974" y="9" width="3" height="1" fill="#b8b8b8" shape-rendering="crispEdges"/>
<rect x="974" y="11" width="3" height="1" fill="#b8b8b8" shape-rendering="crispEdges"/>
<rect x="974" y="13" width="3" height="1" fill="#b8b8b8" shape-rendering="crispEdges"/>
<rect x="974" y="15" width="3" height="1" fill="#b8b8b8" shape-rendering="crispEdges"/>
<rect x="974" y="17" width="3" height="1" fill="#b8b8b8" shape-rendering="crispEdges"/>
<rect x="1121" y="0" width="26" height="21" fill="url(#chk)" shape-rendering="crispEdges"/>
<rect x="1121" y="0" width="1" height="20" fill="#a0a0a0" shape-rendering="crispEdges"/>
<text x="986.5" y="14" font-family="Liberation Sans, sans-serif" font-size="10" fill="#505050" text-anchor="start" textLength="13" lengthAdjust="spacingAndGlyphs" >M1</text>
<text x="1014.6" y="14" font-family="Liberation Sans, sans-serif" font-size="10" fill="#505050" text-anchor="start" textLength="13" lengthAdjust="spacingAndGlyphs" >M5</text>
<text x="1040.7" y="14" font-family="Liberation Sans, sans-serif" font-size="10" fill="#505050" text-anchor="start" textLength="17.8" lengthAdjust="spacingAndGlyphs" >M15</text>
<text x="1068.7" y="14" font-family="Liberation Sans, sans-serif" font-size="10" fill="#505050" text-anchor="start" textLength="17.8" lengthAdjust="spacingAndGlyphs" >M30</text>
<text x="1099.8" y="14" font-family="Liberation Sans, sans-serif" font-size="10" fill="#505050" text-anchor="start" textLength="11.6" lengthAdjust="spacingAndGlyphs" >H1</text>
<text x="1126.7" y="14" font-family="Liberation Sans, sans-serif" font-size="10" fill="#505050" text-anchor="start" textLength="12.3" lengthAdjust="spacingAndGlyphs" >H4</text>
<text x="1156" y="14" font-family="Liberation Sans, sans-serif" font-size="10" fill="#505050" text-anchor="start" textLength="11.2" lengthAdjust="spacingAndGlyphs" >D1</text>
<text x="1183.2" y="14" font-family="Liberation Sans, sans-serif" font-size="10" fill="#505050" text-anchor="start" textLength="14.2" lengthAdjust="spacingAndGlyphs" >W1</text>
<text x="1210" y="14" font-family="Liberation Sans, sans-serif" font-size="10" fill="#505050" text-anchor="start" textLength="14.3" lengthAdjust="spacingAndGlyphs" >MN</text>
<rect x="1232" y="0" width="1" height="20" fill="#a0a0a0" shape-rendering="crispEdges"/>
<line x1="1646.5" y1="10.8" x2="1642.2" y2="15" stroke="#2858c0" stroke-width="2.2" stroke-linecap="round"/>
<circle cx="1649.7" cy="7.6" r="3.7" fill="#f8fbff" stroke="#2858c0" stroke-width="1.4"/>
<path d="M1667,10 a4,3.5 0 0 1 4,-3.5 h3 a4,3.5 0 0 1 0,9 h-2.5 l-2.8,2.8 v-3 a4,3.5 0 0 1 -1.7,-5.3 z" fill="#f0f0f0" stroke="#b8b8b8" stroke-width="0.9"/>
<circle cx="1680.7" cy="7.8" r="7.8" fill="url(#gred)"/>
<text x="1680.7" y="12.2" font-family="Liberation Sans, sans-serif" font-size="12.5" fill="#fff" text-anchor="middle" >1</text>
<text x="3.2" y="38" font-family="Liberation Sans, sans-serif" font-size="10" fill="#000" text-anchor="start" textLength="204" lengthAdjust="spacingAndGlyphs" >GBPUSD-,H4&#160;&#160;1.36222 1.36227 1.36125 1.36130</text>
<polygon points="1459,27 1469,27 1464,32" fill="#b4b4b4"/>
<g shape-rendering="crispEdges">
<rect x="0" y="46" width="43" height="25" fill="url(#gblue2)"/>
<rect x="158" y="46" width="52" height="25" fill="url(#gblue2)"/>
<rect x="0" y="70" width="100" height="33" fill="url(#gblue)"/>
<rect x="102" y="70" width="108" height="33" fill="url(#gblue)"/>
<rect x="0" y="70" width="39" height="1" fill="#8080f4"/>
<rect x="162" y="70" width="44" height="1" fill="#8080f4"/>
<rect x="45.5" y="46.5" width="110" height="21" fill="#fff" stroke="#c8c8c8"/>
<rect x="47" y="48" width="19" height="18" fill="url(#gbtn)"/>
<rect x="135" y="48" width="19" height="18" fill="url(#gbtn)"/>
<rect x="66" y="47" width="1" height="20" fill="#d0d0d0"/><rect x="134" y="47" width="1" height="20" fill="#d0d0d0"/>
</g>
<polygon points="52.8,55.5 57.8,55.5 55.3,58.3" fill="#4060c0"/>
<polygon points="142,58.3 147,58.3 144.5,55.5" fill="#4060c0"/>
<text x="130.5" y="61.8" font-family="Liberation Sans, sans-serif" font-size="12" fill="#000" text-anchor="end" textLength="23" lengthAdjust="spacingAndGlyphs" >1.00</text>
<text x="3.3" y="62" font-family="Liberation Sans, sans-serif" font-size="12" fill="#fff" text-anchor="start" textLength="26" lengthAdjust="spacingAndGlyphs" >SELL</text>
<text x="171.6" y="62" font-family="Liberation Sans, sans-serif" font-size="12" fill="#fff" text-anchor="start" textLength="23.4" lengthAdjust="spacingAndGlyphs" >BUY</text>
<text x="11.7" y="98" font-family="Liberation Sans, sans-serif" font-size="11.6" fill="#fff" text-anchor="start" textLength="23.4" lengthAdjust="spacingAndGlyphs" font-weight="bold">1.36</text>
<text x="38.3" y="98.1" font-family="Liberation Sans, sans-serif" font-size="34" fill="#fff" text-anchor="start" textLength="35.6" lengthAdjust="spacingAndGlyphs" >13</text>
<text x="77.8" y="82" font-family="Liberation Sans, sans-serif" font-size="10.6" fill="#fff" text-anchor="start" textLength="7.2" lengthAdjust="spacingAndGlyphs" font-weight="bold">0</text>
<text x="121.5" y="98" font-family="Liberation Sans, sans-serif" font-size="11.6" fill="#fff" text-anchor="start" textLength="23.4" lengthAdjust="spacingAndGlyphs" font-weight="bold">1.36</text>
<text x="149.6" y="98.1" font-family="Liberation Sans, sans-serif" font-size="34" fill="#fff" text-anchor="start" textLength="35.2" lengthAdjust="spacingAndGlyphs" >15</text>
<text x="188.6" y="82" font-family="Liberation Sans, sans-serif" font-size="10.6" fill="#fff" text-anchor="start" textLength="7.6" lengthAdjust="spacingAndGlyphs" font-weight="bold">4</text>
</svg>
</body></html>
